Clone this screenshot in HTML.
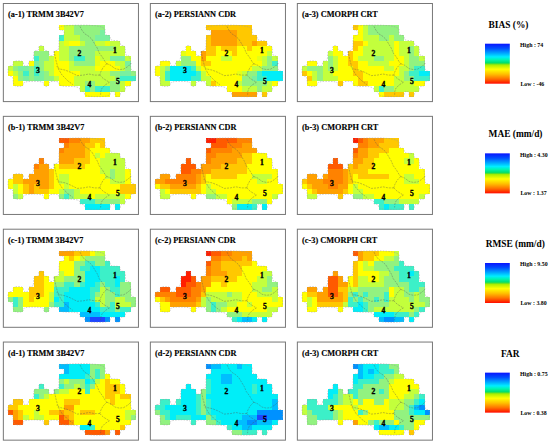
<!DOCTYPE html><html><head><meta charset="utf-8"><style>
html,body{margin:0;padding:0;background:#fff;}
body{width:550px;height:445px;overflow:hidden;}
svg{display:block;}
text{font-family:"Liberation Serif",serif;font-weight:bold;fill:#000;}
</style></head><body>
<svg width="550" height="445" viewBox="0 0 550 445">
<defs><linearGradient id="ramp" x1="0" y1="0" x2="0" y2="1">
<stop offset="0" stop-color="#0a14ff"/><stop offset="0.12" stop-color="#0050ff"/><stop offset="0.25" stop-color="#00b0ff"/>
<stop offset="0.33" stop-color="#00eeff"/><stop offset="0.40" stop-color="#00f5b4"/><stop offset="0.475" stop-color="#00e070"/>
<stop offset="0.505" stop-color="#50e030"/><stop offset="0.53" stop-color="#a8ee00"/><stop offset="0.64" stop-color="#ffff00"/>
<stop offset="0.76" stop-color="#ffc000"/><stop offset="0.88" stop-color="#ff7000"/><stop offset="1" stop-color="#ff0a00"/>
</linearGradient></defs>

<rect x="3.35" y="3.50" width="135.1" height="98.1" fill="none" stroke="#777" stroke-width="1.0"/>
<text transform="translate(8.05,17.00) scale(1.13,1)" font-size="7.35" stroke="#000" stroke-width="0.12">(a-1) TRMM 3B42V7</text>
<g shape-rendering="crispEdges"><rect x="59.10" y="25.20" width="5.15" height="5.15" fill="#ffff00"/><rect x="64.20" y="25.20" width="10.25" height="5.15" fill="#c3ff3c"/><rect x="74.40" y="25.20" width="30.65" height="5.15" fill="#92f280"/><rect x="64.20" y="30.30" width="10.25" height="5.15" fill="#c3ff3c"/><rect x="74.40" y="30.30" width="25.55" height="5.15" fill="#92f280"/><rect x="99.90" y="30.30" width="5.15" height="5.15" fill="#78f0a0"/><rect x="59.10" y="35.40" width="5.15" height="5.15" fill="#3cf0c8"/><rect x="64.20" y="35.40" width="15.35" height="5.15" fill="#c3ff3c"/><rect x="79.50" y="35.40" width="15.35" height="5.15" fill="#92f280"/><rect x="94.80" y="35.40" width="15.35" height="5.15" fill="#78f0a0"/><rect x="59.10" y="40.50" width="5.15" height="5.15" fill="#c3ff3c"/><rect x="64.20" y="40.50" width="5.15" height="5.15" fill="#e6ff14"/><rect x="69.30" y="40.50" width="10.25" height="5.15" fill="#ffff00"/><rect x="79.50" y="40.50" width="5.15" height="5.15" fill="#c3ff3c"/><rect x="84.60" y="40.50" width="10.25" height="5.15" fill="#92f280"/><rect x="94.80" y="40.50" width="10.25" height="5.15" fill="#c3ff3c"/><rect x="105.00" y="40.50" width="5.15" height="5.15" fill="#e6ff14"/><rect x="110.10" y="40.50" width="10.25" height="5.15" fill="#c3ff3c"/><rect x="38.70" y="45.60" width="5.15" height="5.15" fill="#c3ff3c"/><rect x="59.10" y="45.60" width="10.25" height="5.15" fill="#c3ff3c"/><rect x="69.30" y="45.60" width="45.95" height="5.15" fill="#92f280"/><rect x="115.20" y="45.60" width="10.25" height="5.15" fill="#c3ff3c"/><rect x="33.60" y="50.70" width="15.35" height="5.15" fill="#92f280"/><rect x="54.00" y="50.70" width="5.15" height="5.15" fill="#ffff00"/><rect x="59.10" y="50.70" width="10.25" height="5.15" fill="#c3ff3c"/><rect x="69.30" y="50.70" width="25.55" height="5.15" fill="#92f280"/><rect x="94.80" y="50.70" width="30.65" height="5.15" fill="#c3ff3c"/><rect x="33.60" y="55.80" width="5.15" height="5.15" fill="#3cf0c8"/><rect x="38.70" y="55.80" width="10.25" height="5.15" fill="#92f280"/><rect x="48.90" y="55.80" width="5.15" height="5.15" fill="#c3ff3c"/><rect x="54.00" y="55.80" width="5.15" height="5.15" fill="#ffff00"/><rect x="59.10" y="55.80" width="10.25" height="5.15" fill="#c3ff3c"/><rect x="69.30" y="55.80" width="5.15" height="5.15" fill="#92f280"/><rect x="74.40" y="55.80" width="10.25" height="5.15" fill="#3cf0c8"/><rect x="84.60" y="55.80" width="10.25" height="5.15" fill="#92f280"/><rect x="94.80" y="55.80" width="5.15" height="5.15" fill="#e6ff14"/><rect x="99.90" y="55.80" width="10.25" height="5.15" fill="#c3ff3c"/><rect x="110.10" y="55.80" width="15.35" height="5.15" fill="#78f0a0"/><rect x="125.40" y="55.80" width="5.15" height="5.15" fill="#c3ff3c"/><rect x="13.20" y="60.90" width="10.25" height="5.15" fill="#c3ff3c"/><rect x="28.50" y="60.90" width="5.15" height="5.15" fill="#ffff00"/><rect x="33.60" y="60.90" width="5.15" height="5.15" fill="#78f0a0"/><rect x="38.70" y="60.90" width="5.15" height="5.15" fill="#92f280"/><rect x="43.80" y="60.90" width="10.25" height="5.15" fill="#c3ff3c"/><rect x="54.00" y="60.90" width="15.35" height="5.15" fill="#ffff00"/><rect x="69.30" y="60.90" width="5.15" height="5.15" fill="#c3ff3c"/><rect x="74.40" y="60.90" width="20.45" height="5.15" fill="#92f280"/><rect x="94.80" y="60.90" width="5.15" height="5.15" fill="#e6ff14"/><rect x="99.90" y="60.90" width="15.35" height="5.15" fill="#ffff00"/><rect x="115.20" y="60.90" width="10.25" height="5.15" fill="#c3ff3c"/><rect x="125.40" y="60.90" width="5.15" height="5.15" fill="#78f0a0"/><rect x="8.10" y="66.00" width="5.15" height="5.15" fill="#c3ff3c"/><rect x="13.20" y="66.00" width="5.15" height="5.15" fill="#92f280"/><rect x="18.30" y="66.00" width="10.25" height="5.15" fill="#78f0a0"/><rect x="28.50" y="66.00" width="5.15" height="5.15" fill="#92f280"/><rect x="33.60" y="66.00" width="5.15" height="5.15" fill="#3cf0c8"/><rect x="38.70" y="66.00" width="5.15" height="5.15" fill="#92f280"/><rect x="43.80" y="66.00" width="10.25" height="5.15" fill="#c3ff3c"/><rect x="54.00" y="66.00" width="15.35" height="5.15" fill="#ffff00"/><rect x="69.30" y="66.00" width="25.55" height="5.15" fill="#c3ff3c"/><rect x="94.80" y="66.00" width="25.55" height="5.15" fill="#ffff00"/><rect x="120.30" y="66.00" width="5.15" height="5.15" fill="#c3ff3c"/><rect x="125.40" y="66.00" width="5.15" height="5.15" fill="#92f280"/><rect x="8.10" y="71.10" width="5.15" height="5.15" fill="#ffff00"/><rect x="13.20" y="71.10" width="5.15" height="5.15" fill="#c3ff3c"/><rect x="18.30" y="71.10" width="5.15" height="5.15" fill="#92f280"/><rect x="23.40" y="71.10" width="5.15" height="5.15" fill="#3cf0c8"/><rect x="28.50" y="71.10" width="5.15" height="5.15" fill="#92f280"/><rect x="33.60" y="71.10" width="5.15" height="5.15" fill="#3cf0c8"/><rect x="38.70" y="71.10" width="5.15" height="5.15" fill="#78f0a0"/><rect x="43.80" y="71.10" width="5.15" height="5.15" fill="#92f280"/><rect x="48.90" y="71.10" width="5.15" height="5.15" fill="#c3ff3c"/><rect x="54.00" y="71.10" width="25.55" height="5.15" fill="#ffff00"/><rect x="79.50" y="71.10" width="30.65" height="5.15" fill="#c3ff3c"/><rect x="110.10" y="71.10" width="10.25" height="5.15" fill="#92f280"/><rect x="120.30" y="71.10" width="10.25" height="5.15" fill="#78f0a0"/><rect x="130.50" y="71.10" width="5.15" height="5.15" fill="#92f280"/><rect x="13.20" y="76.20" width="5.15" height="5.15" fill="#ffff00"/><rect x="18.30" y="76.20" width="5.15" height="5.15" fill="#92f280"/><rect x="23.40" y="76.20" width="5.15" height="5.15" fill="#78f0a0"/><rect x="28.50" y="76.20" width="5.15" height="5.15" fill="#92f280"/><rect x="33.60" y="76.20" width="10.25" height="5.15" fill="#78f0a0"/><rect x="43.80" y="76.20" width="10.25" height="5.15" fill="#92f280"/><rect x="54.00" y="76.20" width="5.15" height="5.15" fill="#c3ff3c"/><rect x="59.10" y="76.20" width="15.35" height="5.15" fill="#ffff00"/><rect x="74.40" y="76.20" width="40.85" height="5.15" fill="#c3ff3c"/><rect x="115.20" y="76.20" width="5.15" height="5.15" fill="#92f280"/><rect x="120.30" y="76.20" width="15.35" height="5.15" fill="#3cf0c8"/><rect x="13.20" y="81.30" width="10.25" height="5.15" fill="#ffff00"/><rect x="43.80" y="81.30" width="5.15" height="5.15" fill="#ffff00"/><rect x="59.10" y="81.30" width="15.35" height="5.15" fill="#ffff00"/><rect x="74.40" y="81.30" width="10.25" height="5.15" fill="#c3ff3c"/><rect x="84.60" y="81.30" width="10.25" height="5.15" fill="#92f280"/><rect x="94.80" y="81.30" width="15.35" height="5.15" fill="#c3ff3c"/><rect x="110.10" y="81.30" width="10.25" height="5.15" fill="#92f280"/><rect x="120.30" y="81.30" width="5.15" height="5.15" fill="#c3ff3c"/><rect x="125.40" y="81.30" width="5.15" height="5.15" fill="#ffff00"/><rect x="79.50" y="86.40" width="5.15" height="5.15" fill="#c3ff3c"/><rect x="84.60" y="86.40" width="5.15" height="5.15" fill="#3cf0c8"/><rect x="89.70" y="86.40" width="5.15" height="5.15" fill="#92f280"/><rect x="94.80" y="86.40" width="15.35" height="5.15" fill="#3cf0c8"/><rect x="110.10" y="86.40" width="10.25" height="5.15" fill="#92f280"/><rect x="120.30" y="86.40" width="5.15" height="5.15" fill="#c3ff3c"/><rect x="84.60" y="91.50" width="25.55" height="5.15" fill="#ffff00"/><rect x="115.20" y="91.50" width="5.15" height="5.15" fill="#ffff00"/></g>
<path d="M10.0,66.0 L11.3,66.0 L12.2,65.7 L12.9,65.0 L13.2,64.1 L13.2,62.8 L13.8,61.9 L15.1,61.2 L17.0,60.9 L19.6,60.9 L21.5,61.2 L22.8,61.9 L23.4,62.8 L23.4,64.1 L23.7,65.0 L24.4,65.7 L25.3,66.0 L26.6,66.0 L27.5,65.7 L28.2,65.0 L28.5,64.1 L28.5,62.8 L28.8,61.9 L29.5,61.2 L30.4,60.9 L31.7,60.9 L32.6,60.3 L33.3,59.0 L33.6,57.1 L33.6,54.5 L33.9,52.6 L34.6,51.3 L35.5,50.7 L36.8,50.7 L37.7,50.4 L38.4,49.7 L38.7,48.8 L38.7,47.5 L39.0,46.6 L39.7,45.9 L40.6,45.6 L41.9,45.6 L42.8,45.9 L43.5,46.6 L43.8,47.5 L43.8,48.8 L44.1,49.7 L44.8,50.4 L45.7,50.7 L47.0,50.7 L47.9,51.0 L48.6,51.7 L48.9,52.6 L48.9,53.9 L49.2,54.8 L49.9,55.5 L50.8,55.8 L52.1,55.8 L53.0,55.5 L53.7,54.8 L54.0,53.9 L54.0,52.6 L54.3,51.7 L55.0,51.0 L55.9,50.7 L57.2,50.7 L58.1,49.7 L58.8,47.8 L59.1,45.0 L59.1,41.1 L59.4,38.3 L60.1,36.4 L61.0,35.4 L62.3,35.4 L63.2,35.1 L63.9,34.4 L64.2,33.5 L64.2,32.2 L63.9,31.3 L63.2,30.6 L62.3,30.3 L61.0,30.3 L60.1,30.0 L59.4,29.3 L59.1,28.4 L59.1,27.1 L62.0,26.2 L67.7,25.5 L76.3,25.2 L87.8,25.2 L96.4,25.8 L102.1,27.1 L105.0,29.0 L105.0,31.6 L105.3,33.5 L106.0,34.8 L106.9,35.4 L108.2,35.4 L109.1,35.7 L109.8,36.4 L110.1,37.3 L110.1,38.6 L110.7,39.5 L112.0,40.2 L113.9,40.5 L116.5,40.5 L118.4,40.8 L119.7,41.5 L120.3,42.4 L120.3,43.7 L120.6,44.6 L121.3,45.3 L122.2,45.6 L123.5,45.6 L124.4,46.2 L125.1,47.5 L125.4,49.4 L125.4,52.0 L125.7,53.9 L126.4,55.2 L127.3,55.8 L128.6,55.8 L129.5,56.8 L130.2,58.7 L130.5,61.5 L130.5,65.4 L130.8,68.2 L131.5,70.1 L132.4,71.1 L133.7,71.1 L134.6,71.7 L135.3,73.0 L135.6,74.9 L135.6,77.5 L135.3,79.4 L134.6,80.7 L133.7,81.3 L132.4,81.3 L131.5,81.6 L130.8,82.3 L130.5,83.2 L130.5,84.5 L130.2,85.4 L129.5,86.1 L128.6,86.4 L127.3,86.4 L126.4,86.7 L125.7,87.4 L125.4,88.3 L125.4,89.6 L125.1,90.5 L124.4,91.2 L123.5,91.5 L122.2,91.5 L121.3,91.8 L120.6,92.5 L120.3,93.4 L120.3,94.7 L120.0,95.6 L119.3,96.3 L118.4,96.6 L117.1,96.6 L116.2,96.3 L115.5,95.6 L115.2,94.7 L115.2,93.4 L114.9,92.5 L114.2,91.8 L113.3,91.5 L112.0,91.5 L111.1,91.8 L110.4,92.5 L110.1,93.4 L110.1,94.7 L108.5,95.6 L105.3,96.3 L100.5,96.6 L94.2,96.6 L89.4,96.3 L86.2,95.6 L84.6,94.7 L84.6,93.4 L84.3,92.5 L83.6,91.8 L82.7,91.5 L81.4,91.5 L80.5,91.2 L79.8,90.5 L79.5,89.6 L79.5,88.3 L78.2,87.4 L75.7,86.7 L71.8,86.4 L66.7,86.4 L62.9,86.1 L60.4,85.4 L59.1,84.5 L59.1,83.2 L58.5,82.3 L57.2,81.6 L55.3,81.3 L52.7,81.3 L50.8,81.6 L49.5,82.3 L48.9,83.2 L48.9,84.5 L48.6,85.4 L47.9,86.1 L47.0,86.4 L45.7,86.4 L44.8,86.1 L44.1,85.4 L43.8,84.5 L43.8,83.2 L42.5,82.3 L40.0,81.6 L36.1,81.3 L31.0,81.3 L27.2,81.6 L24.7,82.3 L23.4,83.2 L23.4,84.5 L22.8,85.4 L21.5,86.1 L19.6,86.4 L17.0,86.4 L15.1,85.8 L13.8,84.5 L13.2,82.6 L13.2,80.0 L12.9,78.1 L12.2,76.8 L11.3,76.2 L10.0,76.2 L9.1,75.6 L8.4,74.3 L8.1,72.4 L8.1,69.8 L8.4,67.9 L9.1,66.6Z" fill="none" stroke="#9a9a9a" stroke-width="0.5" stroke-dasharray="1.6,1.2"/>
<path d="M80.0,26.4 L81.8,30.0 L84.5,33.6 L88.2,35.9 L91.8,39.1 L94.5,43.6 L97.3,48.2 L99.2,52.9 L102.5,57.3 L105.7,62.7 L106.8,63.7" fill="none" stroke="#505050" stroke-width="0.5" stroke-dasharray="2,1" opacity="0.75"/>
<path d="M106.8,63.7 L110.7,65.3 L115.0,68.6 L119.4,69.6 L123.7,69.1 L128.1,66.4 L131.4,63.1" fill="none" stroke="#505050" stroke-width="0.5" stroke-dasharray="2,1" opacity="0.75"/>
<path d="M106.8,63.7 L103.1,67.5 L100.8,71.8 L99.8,75.1" fill="none" stroke="#505050" stroke-width="0.5" stroke-dasharray="2,1" opacity="0.75"/>
<path d="M99.8,75.1 L94.3,75.1 L88.9,74.0 L83.4,75.1 L77.2,75.6 L70.7,72.3 L65.2,70.1 L59.8,69.0 L56.6,66.7" fill="none" stroke="#505050" stroke-width="0.5" stroke-dasharray="2,1" opacity="0.75"/>
<path d="M99.8,75.1 L103.1,78.4 L107.4,81.1 L109.5,82.2 L105.2,84.9 L102.0,88.2 L100.8,91.5 L100.6,94.7" fill="none" stroke="#505050" stroke-width="0.5" stroke-dasharray="2,1" opacity="0.75"/>
<path d="M54.0,51.0 L56.0,60.6 L58.4,69.0 L62.0,75.0 L68.0,81.0 L72.8,84.6" fill="none" stroke="#505050" stroke-width="0.5" stroke-dasharray="2,1" opacity="0.75"/>
<text x="115.0" y="52.5" font-size="7.6" text-anchor="middle" stroke="#000" stroke-width="0.35">1</text>
<text x="79.4" y="55.8" font-size="7.6" text-anchor="middle" stroke="#000" stroke-width="0.35">2</text>
<text x="37.9" y="72.8" font-size="7.6" text-anchor="middle" stroke="#000" stroke-width="0.35">3</text>
<text x="89.5" y="87.2" font-size="7.6" text-anchor="middle" stroke="#000" stroke-width="0.35">4</text>
<text x="117.9" y="83.6" font-size="7.6" text-anchor="middle" stroke="#000" stroke-width="0.35">5</text>
<rect x="150.35" y="3.50" width="135.1" height="98.1" fill="none" stroke="#777" stroke-width="1.0"/>
<text transform="translate(155.05,17.00) scale(1.13,1)" font-size="7.35" stroke="#000" stroke-width="0.12">(a-2) PERSIANN CDR</text>
<g shape-rendering="crispEdges"><rect x="206.10" y="25.20" width="45.95" height="5.15" fill="#ffc800"/><rect x="211.20" y="30.30" width="25.55" height="5.15" fill="#ffa000"/><rect x="236.70" y="30.30" width="15.35" height="5.15" fill="#ffc800"/><rect x="206.10" y="35.40" width="5.15" height="5.15" fill="#ffc800"/><rect x="211.20" y="35.40" width="25.55" height="5.15" fill="#ffa000"/><rect x="236.70" y="35.40" width="20.45" height="5.15" fill="#ffc800"/><rect x="206.10" y="40.50" width="5.15" height="5.15" fill="#ffc800"/><rect x="211.20" y="40.50" width="25.55" height="5.15" fill="#ffa000"/><rect x="236.70" y="40.50" width="15.35" height="5.15" fill="#ffc800"/><rect x="252.00" y="40.50" width="5.15" height="5.15" fill="#ffa000"/><rect x="257.10" y="40.50" width="10.25" height="5.15" fill="#ffc800"/><rect x="185.70" y="45.60" width="5.15" height="5.15" fill="#ffff00"/><rect x="206.10" y="45.60" width="10.25" height="5.15" fill="#ffc800"/><rect x="216.30" y="45.60" width="5.15" height="5.15" fill="#ffff00"/><rect x="221.40" y="45.60" width="15.35" height="5.15" fill="#ffc800"/><rect x="236.70" y="45.60" width="10.25" height="5.15" fill="#ffff00"/><rect x="246.90" y="45.60" width="5.15" height="5.15" fill="#ffc800"/><rect x="252.00" y="45.60" width="20.45" height="5.15" fill="#ffff00"/><rect x="180.60" y="50.70" width="5.15" height="5.15" fill="#e6ff14"/><rect x="185.70" y="50.70" width="10.25" height="5.15" fill="#ffff00"/><rect x="201.00" y="50.70" width="5.15" height="5.15" fill="#ffa000"/><rect x="206.10" y="50.70" width="10.25" height="5.15" fill="#ffc800"/><rect x="216.30" y="50.70" width="15.35" height="5.15" fill="#ffff00"/><rect x="231.60" y="50.70" width="5.15" height="5.15" fill="#ffc800"/><rect x="236.70" y="50.70" width="30.65" height="5.15" fill="#ffff00"/><rect x="267.30" y="50.70" width="5.15" height="5.15" fill="#c3ff3c"/><rect x="180.60" y="55.80" width="10.25" height="5.15" fill="#92f280"/><rect x="190.80" y="55.80" width="10.25" height="5.15" fill="#ffff00"/><rect x="201.00" y="55.80" width="5.15" height="5.15" fill="#ffa000"/><rect x="206.10" y="55.80" width="15.35" height="5.15" fill="#ffff00"/><rect x="221.40" y="55.80" width="10.25" height="5.15" fill="#c3ff3c"/><rect x="231.60" y="55.80" width="25.55" height="5.15" fill="#ffff00"/><rect x="257.10" y="55.80" width="5.15" height="5.15" fill="#e6ff14"/><rect x="262.20" y="55.80" width="5.15" height="5.15" fill="#c3ff3c"/><rect x="267.30" y="55.80" width="5.15" height="5.15" fill="#92f280"/><rect x="272.40" y="55.80" width="5.15" height="5.15" fill="#c3ff3c"/><rect x="160.20" y="60.90" width="10.25" height="5.15" fill="#ffff00"/><rect x="175.50" y="60.90" width="5.15" height="5.15" fill="#c3ff3c"/><rect x="180.60" y="60.90" width="15.35" height="5.15" fill="#92f280"/><rect x="195.90" y="60.90" width="5.15" height="5.15" fill="#ffff00"/><rect x="201.00" y="60.90" width="10.25" height="5.15" fill="#ffc800"/><rect x="211.20" y="60.90" width="51.05" height="5.15" fill="#ffff00"/><rect x="262.20" y="60.90" width="5.15" height="5.15" fill="#c3ff3c"/><rect x="267.30" y="60.90" width="5.15" height="5.15" fill="#92f280"/><rect x="272.40" y="60.90" width="5.15" height="5.15" fill="#3cf0c8"/><rect x="155.10" y="66.00" width="5.15" height="5.15" fill="#ffff00"/><rect x="160.20" y="66.00" width="5.15" height="5.15" fill="#c3ff3c"/><rect x="165.30" y="66.00" width="5.15" height="5.15" fill="#92f280"/><rect x="170.40" y="66.00" width="20.45" height="5.15" fill="#00eef8"/><rect x="190.80" y="66.00" width="5.15" height="5.15" fill="#3cf0c8"/><rect x="195.90" y="66.00" width="5.15" height="5.15" fill="#c3ff3c"/><rect x="201.00" y="66.00" width="51.05" height="5.15" fill="#ffff00"/><rect x="252.00" y="66.00" width="10.25" height="5.15" fill="#c3ff3c"/><rect x="262.20" y="66.00" width="15.35" height="5.15" fill="#92f280"/><rect x="155.10" y="71.10" width="5.15" height="5.15" fill="#ffff00"/><rect x="160.20" y="71.10" width="5.15" height="5.15" fill="#c3ff3c"/><rect x="165.30" y="71.10" width="5.15" height="5.15" fill="#3cf0c8"/><rect x="170.40" y="71.10" width="25.55" height="5.15" fill="#00eef8"/><rect x="195.90" y="71.10" width="5.15" height="5.15" fill="#3cf0c8"/><rect x="201.00" y="71.10" width="5.15" height="5.15" fill="#c3ff3c"/><rect x="206.10" y="71.10" width="30.65" height="5.15" fill="#ffff00"/><rect x="236.70" y="71.10" width="5.15" height="5.15" fill="#e6ff14"/><rect x="241.80" y="71.10" width="5.15" height="5.15" fill="#c3ff3c"/><rect x="246.90" y="71.10" width="10.25" height="5.15" fill="#92f280"/><rect x="257.10" y="71.10" width="5.15" height="5.15" fill="#3cf0c8"/><rect x="262.20" y="71.10" width="20.45" height="5.15" fill="#00eef8"/><rect x="160.20" y="76.20" width="5.15" height="5.15" fill="#c3ff3c"/><rect x="165.30" y="76.20" width="5.15" height="5.15" fill="#3cf0c8"/><rect x="170.40" y="76.20" width="20.45" height="5.15" fill="#00eef8"/><rect x="190.80" y="76.20" width="10.25" height="5.15" fill="#3cf0c8"/><rect x="201.00" y="76.20" width="10.25" height="5.15" fill="#c3ff3c"/><rect x="211.20" y="76.20" width="30.65" height="5.15" fill="#ffff00"/><rect x="241.80" y="76.20" width="10.25" height="5.15" fill="#92f280"/><rect x="252.00" y="76.20" width="5.15" height="5.15" fill="#78f0a0"/><rect x="257.10" y="76.20" width="10.25" height="5.15" fill="#3cf0c8"/><rect x="267.30" y="76.20" width="15.35" height="5.15" fill="#00eef8"/><rect x="160.20" y="81.30" width="10.25" height="5.15" fill="#c3ff3c"/><rect x="190.80" y="81.30" width="5.15" height="5.15" fill="#c3ff3c"/><rect x="206.10" y="81.30" width="5.15" height="5.15" fill="#c3ff3c"/><rect x="211.20" y="81.30" width="5.15" height="5.15" fill="#ffc800"/><rect x="216.30" y="81.30" width="20.45" height="5.15" fill="#ffff00"/><rect x="236.70" y="81.30" width="5.15" height="5.15" fill="#c3ff3c"/><rect x="241.80" y="81.30" width="25.55" height="5.15" fill="#92f280"/><rect x="267.30" y="81.30" width="5.15" height="5.15" fill="#c3ff3c"/><rect x="272.40" y="81.30" width="5.15" height="5.15" fill="#ffff00"/><rect x="226.50" y="86.40" width="15.35" height="5.15" fill="#ffff00"/><rect x="241.80" y="86.40" width="15.35" height="5.15" fill="#c3ff3c"/><rect x="257.10" y="86.40" width="5.15" height="5.15" fill="#92f280"/><rect x="262.20" y="86.40" width="10.25" height="5.15" fill="#c3ff3c"/><rect x="231.60" y="91.50" width="25.55" height="5.15" fill="#ffa000"/><rect x="262.20" y="91.50" width="5.15" height="5.15" fill="#ffc800"/></g>
<path d="M157.0,66.0 L158.3,66.0 L159.2,65.7 L159.9,65.0 L160.2,64.1 L160.2,62.8 L160.8,61.9 L162.1,61.2 L164.0,60.9 L166.6,60.9 L168.5,61.2 L169.8,61.9 L170.4,62.8 L170.4,64.1 L170.7,65.0 L171.4,65.7 L172.3,66.0 L173.6,66.0 L174.5,65.7 L175.2,65.0 L175.5,64.1 L175.5,62.8 L175.8,61.9 L176.5,61.2 L177.4,60.9 L178.7,60.9 L179.6,60.3 L180.3,59.0 L180.6,57.1 L180.6,54.5 L180.9,52.6 L181.6,51.3 L182.5,50.7 L183.8,50.7 L184.7,50.4 L185.4,49.7 L185.7,48.8 L185.7,47.5 L186.0,46.6 L186.7,45.9 L187.6,45.6 L188.9,45.6 L189.8,45.9 L190.5,46.6 L190.8,47.5 L190.8,48.8 L191.1,49.7 L191.8,50.4 L192.7,50.7 L194.0,50.7 L194.9,51.0 L195.6,51.7 L195.9,52.6 L195.9,53.9 L196.2,54.8 L196.9,55.5 L197.8,55.8 L199.1,55.8 L200.0,55.5 L200.7,54.8 L201.0,53.9 L201.0,52.6 L201.3,51.7 L202.0,51.0 L202.9,50.7 L204.2,50.7 L205.1,49.7 L205.8,47.8 L206.1,45.0 L206.1,41.1 L206.4,38.3 L207.1,36.4 L208.0,35.4 L209.3,35.4 L210.2,35.1 L210.9,34.4 L211.2,33.5 L211.2,32.2 L210.9,31.3 L210.2,30.6 L209.3,30.3 L208.0,30.3 L207.1,30.0 L206.4,29.3 L206.1,28.4 L206.1,27.1 L209.0,26.2 L214.7,25.5 L223.3,25.2 L234.8,25.2 L243.4,25.8 L249.1,27.1 L252.0,29.0 L252.0,31.6 L252.3,33.5 L253.0,34.8 L253.9,35.4 L255.2,35.4 L256.1,35.7 L256.8,36.4 L257.1,37.3 L257.1,38.6 L257.7,39.5 L259.0,40.2 L260.9,40.5 L263.5,40.5 L265.4,40.8 L266.7,41.5 L267.3,42.4 L267.3,43.7 L267.6,44.6 L268.3,45.3 L269.2,45.6 L270.5,45.6 L271.4,46.2 L272.1,47.5 L272.4,49.4 L272.4,52.0 L272.7,53.9 L273.4,55.2 L274.3,55.8 L275.6,55.8 L276.5,56.8 L277.2,58.7 L277.5,61.5 L277.5,65.4 L277.8,68.2 L278.5,70.1 L279.4,71.1 L280.7,71.1 L281.6,71.7 L282.3,73.0 L282.6,74.9 L282.6,77.5 L282.3,79.4 L281.6,80.7 L280.7,81.3 L279.4,81.3 L278.5,81.6 L277.8,82.3 L277.5,83.2 L277.5,84.5 L277.2,85.4 L276.5,86.1 L275.6,86.4 L274.3,86.4 L273.4,86.7 L272.7,87.4 L272.4,88.3 L272.4,89.6 L272.1,90.5 L271.4,91.2 L270.5,91.5 L269.2,91.5 L268.3,91.8 L267.6,92.5 L267.3,93.4 L267.3,94.7 L267.0,95.6 L266.3,96.3 L265.4,96.6 L264.1,96.6 L263.2,96.3 L262.5,95.6 L262.2,94.7 L262.2,93.4 L261.9,92.5 L261.2,91.8 L260.3,91.5 L259.0,91.5 L258.1,91.8 L257.4,92.5 L257.1,93.4 L257.1,94.7 L255.5,95.6 L252.3,96.3 L247.5,96.6 L241.2,96.6 L236.4,96.3 L233.2,95.6 L231.6,94.7 L231.6,93.4 L231.3,92.5 L230.6,91.8 L229.7,91.5 L228.4,91.5 L227.5,91.2 L226.8,90.5 L226.5,89.6 L226.5,88.3 L225.2,87.4 L222.7,86.7 L218.8,86.4 L213.8,86.4 L209.9,86.1 L207.4,85.4 L206.1,84.5 L206.1,83.2 L205.5,82.3 L204.2,81.6 L202.3,81.3 L199.7,81.3 L197.8,81.6 L196.5,82.3 L195.9,83.2 L195.9,84.5 L195.6,85.4 L194.9,86.1 L194.0,86.4 L192.7,86.4 L191.8,86.1 L191.1,85.4 L190.8,84.5 L190.8,83.2 L189.5,82.3 L187.0,81.6 L183.1,81.3 L178.0,81.3 L174.2,81.6 L171.7,82.3 L170.4,83.2 L170.4,84.5 L169.8,85.4 L168.5,86.1 L166.6,86.4 L164.0,86.4 L162.1,85.8 L160.8,84.5 L160.2,82.6 L160.2,80.0 L159.9,78.1 L159.2,76.8 L158.3,76.2 L157.0,76.2 L156.1,75.6 L155.4,74.3 L155.1,72.4 L155.1,69.8 L155.4,67.9 L156.1,66.6Z" fill="none" stroke="#9a9a9a" stroke-width="0.5" stroke-dasharray="1.6,1.2"/>
<path d="M227.0,26.4 L228.8,30.0 L231.5,33.6 L235.2,35.9 L238.8,39.1 L241.5,43.6 L244.3,48.2 L246.2,52.9 L249.5,57.3 L252.7,62.7 L253.8,63.7" fill="none" stroke="#505050" stroke-width="0.5" stroke-dasharray="2,1" opacity="0.75"/>
<path d="M253.8,63.7 L257.7,65.3 L262.0,68.6 L266.4,69.6 L270.7,69.1 L275.1,66.4 L278.4,63.1" fill="none" stroke="#505050" stroke-width="0.5" stroke-dasharray="2,1" opacity="0.75"/>
<path d="M253.8,63.7 L250.1,67.5 L247.8,71.8 L246.8,75.1" fill="none" stroke="#505050" stroke-width="0.5" stroke-dasharray="2,1" opacity="0.75"/>
<path d="M246.8,75.1 L241.3,75.1 L235.9,74.0 L230.4,75.1 L224.2,75.6 L217.7,72.3 L212.2,70.1 L206.8,69.0 L203.6,66.7" fill="none" stroke="#505050" stroke-width="0.5" stroke-dasharray="2,1" opacity="0.75"/>
<path d="M246.8,75.1 L250.1,78.4 L254.4,81.1 L256.5,82.2 L252.2,84.9 L249.0,88.2 L247.8,91.5 L247.6,94.7" fill="none" stroke="#505050" stroke-width="0.5" stroke-dasharray="2,1" opacity="0.75"/>
<path d="M201.0,51.0 L203.0,60.6 L205.4,69.0 L209.0,75.0 L215.0,81.0 L219.8,84.6" fill="none" stroke="#505050" stroke-width="0.5" stroke-dasharray="2,1" opacity="0.75"/>
<text x="262.0" y="52.5" font-size="7.6" text-anchor="middle" stroke="#000" stroke-width="0.35">1</text>
<text x="226.4" y="55.8" font-size="7.6" text-anchor="middle" stroke="#000" stroke-width="0.35">2</text>
<text x="184.9" y="72.8" font-size="7.6" text-anchor="middle" stroke="#000" stroke-width="0.35">3</text>
<text x="236.5" y="87.2" font-size="7.6" text-anchor="middle" stroke="#000" stroke-width="0.35">4</text>
<text x="264.9" y="83.6" font-size="7.6" text-anchor="middle" stroke="#000" stroke-width="0.35">5</text>
<rect x="297.35" y="3.50" width="135.1" height="98.1" fill="none" stroke="#777" stroke-width="1.0"/>
<text transform="translate(302.05,17.00) scale(1.13,1)" font-size="7.35" stroke="#000" stroke-width="0.12">(a-3) CMORPH CRT</text>
<g shape-rendering="crispEdges"><rect x="353.10" y="25.20" width="5.15" height="5.15" fill="#ffc800"/><rect x="358.20" y="25.20" width="5.15" height="5.15" fill="#ffff00"/><rect x="363.30" y="25.20" width="5.15" height="5.15" fill="#c3ff3c"/><rect x="368.40" y="25.20" width="30.65" height="5.15" fill="#92f280"/><rect x="358.20" y="30.30" width="5.15" height="5.15" fill="#ffff00"/><rect x="363.30" y="30.30" width="5.15" height="5.15" fill="#c3ff3c"/><rect x="368.40" y="30.30" width="30.65" height="5.15" fill="#92f280"/><rect x="353.10" y="35.40" width="10.25" height="5.15" fill="#ffff00"/><rect x="363.30" y="35.40" width="15.35" height="5.15" fill="#c3ff3c"/><rect x="378.60" y="35.40" width="10.25" height="5.15" fill="#92f280"/><rect x="388.80" y="35.40" width="5.15" height="5.15" fill="#c3ff3c"/><rect x="393.90" y="35.40" width="10.25" height="5.15" fill="#92f280"/><rect x="353.10" y="40.50" width="10.25" height="5.15" fill="#ffc800"/><rect x="363.30" y="40.50" width="5.15" height="5.15" fill="#ffff00"/><rect x="368.40" y="40.50" width="25.55" height="5.15" fill="#c3ff3c"/><rect x="393.90" y="40.50" width="5.15" height="5.15" fill="#ffff00"/><rect x="399.00" y="40.50" width="15.35" height="5.15" fill="#c3ff3c"/><rect x="332.70" y="45.60" width="5.15" height="5.15" fill="#ffff00"/><rect x="353.10" y="45.60" width="5.15" height="5.15" fill="#ffc800"/><rect x="358.20" y="45.60" width="5.15" height="5.15" fill="#ffff00"/><rect x="363.30" y="45.60" width="30.65" height="5.15" fill="#c3ff3c"/><rect x="393.90" y="45.60" width="5.15" height="5.15" fill="#ffff00"/><rect x="399.00" y="45.60" width="10.25" height="5.15" fill="#c3ff3c"/><rect x="409.20" y="45.60" width="5.15" height="5.15" fill="#92f280"/><rect x="414.30" y="45.60" width="5.15" height="5.15" fill="#c3ff3c"/><rect x="327.60" y="50.70" width="5.15" height="5.15" fill="#c3ff3c"/><rect x="332.70" y="50.70" width="10.25" height="5.15" fill="#ffff00"/><rect x="348.00" y="50.70" width="5.15" height="5.15" fill="#ffc800"/><rect x="353.10" y="50.70" width="10.25" height="5.15" fill="#ffff00"/><rect x="363.30" y="50.70" width="30.65" height="5.15" fill="#c3ff3c"/><rect x="393.90" y="50.70" width="5.15" height="5.15" fill="#ffff00"/><rect x="399.00" y="50.70" width="10.25" height="5.15" fill="#c3ff3c"/><rect x="409.20" y="50.70" width="5.15" height="5.15" fill="#92f280"/><rect x="414.30" y="50.70" width="5.15" height="5.15" fill="#c3ff3c"/><rect x="327.60" y="55.80" width="5.15" height="5.15" fill="#92f280"/><rect x="332.70" y="55.80" width="5.15" height="5.15" fill="#c3ff3c"/><rect x="337.80" y="55.80" width="10.25" height="5.15" fill="#ffff00"/><rect x="348.00" y="55.80" width="5.15" height="5.15" fill="#ffc800"/><rect x="353.10" y="55.80" width="5.15" height="5.15" fill="#ffff00"/><rect x="358.20" y="55.80" width="15.35" height="5.15" fill="#c3ff3c"/><rect x="373.50" y="55.80" width="10.25" height="5.15" fill="#92f280"/><rect x="383.70" y="55.80" width="10.25" height="5.15" fill="#c3ff3c"/><rect x="393.90" y="55.80" width="10.25" height="5.15" fill="#ffff00"/><rect x="404.10" y="55.80" width="5.15" height="5.15" fill="#c3ff3c"/><rect x="409.20" y="55.80" width="10.25" height="5.15" fill="#92f280"/><rect x="419.40" y="55.80" width="5.15" height="5.15" fill="#c3ff3c"/><rect x="307.20" y="60.90" width="10.25" height="5.15" fill="#ffff00"/><rect x="322.50" y="60.90" width="5.15" height="5.15" fill="#c3ff3c"/><rect x="327.60" y="60.90" width="5.15" height="5.15" fill="#92f280"/><rect x="332.70" y="60.90" width="5.15" height="5.15" fill="#c3ff3c"/><rect x="337.80" y="60.90" width="10.25" height="5.15" fill="#ffff00"/><rect x="348.00" y="60.90" width="10.25" height="5.15" fill="#ffc800"/><rect x="358.20" y="60.90" width="10.25" height="5.15" fill="#ffff00"/><rect x="368.40" y="60.90" width="20.45" height="5.15" fill="#c3ff3c"/><rect x="388.80" y="60.90" width="15.35" height="5.15" fill="#ffff00"/><rect x="404.10" y="60.90" width="5.15" height="5.15" fill="#c3ff3c"/><rect x="409.20" y="60.90" width="15.35" height="5.15" fill="#92f280"/><rect x="302.10" y="66.00" width="5.15" height="5.15" fill="#c3ff3c"/><rect x="307.20" y="66.00" width="15.35" height="5.15" fill="#92f280"/><rect x="322.50" y="66.00" width="5.15" height="5.15" fill="#c3ff3c"/><rect x="327.60" y="66.00" width="5.15" height="5.15" fill="#92f280"/><rect x="332.70" y="66.00" width="5.15" height="5.15" fill="#c3ff3c"/><rect x="337.80" y="66.00" width="15.35" height="5.15" fill="#ffff00"/><rect x="353.10" y="66.00" width="5.15" height="5.15" fill="#ffc800"/><rect x="358.20" y="66.00" width="25.55" height="5.15" fill="#ffff00"/><rect x="383.70" y="66.00" width="10.25" height="5.15" fill="#c3ff3c"/><rect x="393.90" y="66.00" width="5.15" height="5.15" fill="#ffff00"/><rect x="399.00" y="66.00" width="10.25" height="5.15" fill="#c3ff3c"/><rect x="409.20" y="66.00" width="5.15" height="5.15" fill="#92f280"/><rect x="414.30" y="66.00" width="10.25" height="5.15" fill="#3cf0c8"/><rect x="302.10" y="71.10" width="5.15" height="5.15" fill="#ffc800"/><rect x="307.20" y="71.10" width="5.15" height="5.15" fill="#ffff00"/><rect x="312.30" y="71.10" width="5.15" height="5.15" fill="#c3ff3c"/><rect x="317.40" y="71.10" width="5.15" height="5.15" fill="#92f280"/><rect x="322.50" y="71.10" width="10.25" height="5.15" fill="#c3ff3c"/><rect x="332.70" y="71.10" width="20.45" height="5.15" fill="#ffff00"/><rect x="353.10" y="71.10" width="10.25" height="5.15" fill="#ffc800"/><rect x="363.30" y="71.10" width="35.75" height="5.15" fill="#ffff00"/><rect x="399.00" y="71.10" width="5.15" height="5.15" fill="#c3ff3c"/><rect x="404.10" y="71.10" width="5.15" height="5.15" fill="#92f280"/><rect x="409.20" y="71.10" width="10.25" height="5.15" fill="#3cf0c8"/><rect x="419.40" y="71.10" width="10.25" height="5.15" fill="#00eef8"/><rect x="307.20" y="76.20" width="5.15" height="5.15" fill="#ffc800"/><rect x="312.30" y="76.20" width="5.15" height="5.15" fill="#c3ff3c"/><rect x="317.40" y="76.20" width="5.15" height="5.15" fill="#92f280"/><rect x="322.50" y="76.20" width="15.35" height="5.15" fill="#c3ff3c"/><rect x="337.80" y="76.20" width="20.45" height="5.15" fill="#ffff00"/><rect x="358.20" y="76.20" width="5.15" height="5.15" fill="#ffc800"/><rect x="363.30" y="76.20" width="30.65" height="5.15" fill="#ffff00"/><rect x="393.90" y="76.20" width="10.25" height="5.15" fill="#c3ff3c"/><rect x="404.10" y="76.20" width="10.25" height="5.15" fill="#92f280"/><rect x="414.30" y="76.20" width="15.35" height="5.15" fill="#3cf0c8"/><rect x="307.20" y="81.30" width="10.25" height="5.15" fill="#ffff00"/><rect x="337.80" y="81.30" width="5.15" height="5.15" fill="#ffc800"/><rect x="353.10" y="81.30" width="5.15" height="5.15" fill="#ffff00"/><rect x="358.20" y="81.30" width="10.25" height="5.15" fill="#ffc800"/><rect x="368.40" y="81.30" width="25.55" height="5.15" fill="#ffff00"/><rect x="393.90" y="81.30" width="20.45" height="5.15" fill="#c3ff3c"/><rect x="414.30" y="81.30" width="10.25" height="5.15" fill="#ffff00"/><rect x="373.50" y="86.40" width="5.15" height="5.15" fill="#c3ff3c"/><rect x="378.60" y="86.40" width="5.15" height="5.15" fill="#3cf0c8"/><rect x="383.70" y="86.40" width="10.25" height="5.15" fill="#92f280"/><rect x="393.90" y="86.40" width="25.55" height="5.15" fill="#c3ff3c"/><rect x="378.60" y="91.50" width="5.15" height="5.15" fill="#ffff00"/><rect x="383.70" y="91.50" width="20.45" height="5.15" fill="#ffc800"/><rect x="409.20" y="91.50" width="5.15" height="5.15" fill="#ffc800"/></g>
<path d="M304.0,66.0 L305.3,66.0 L306.2,65.7 L306.9,65.0 L307.2,64.1 L307.2,62.8 L307.8,61.9 L309.1,61.2 L311.0,60.9 L313.6,60.9 L315.5,61.2 L316.8,61.9 L317.4,62.8 L317.4,64.1 L317.7,65.0 L318.4,65.7 L319.3,66.0 L320.6,66.0 L321.5,65.7 L322.2,65.0 L322.5,64.1 L322.5,62.8 L322.8,61.9 L323.5,61.2 L324.4,60.9 L325.7,60.9 L326.6,60.3 L327.3,59.0 L327.6,57.1 L327.6,54.5 L327.9,52.6 L328.6,51.3 L329.5,50.7 L330.8,50.7 L331.7,50.4 L332.4,49.7 L332.7,48.8 L332.7,47.5 L333.0,46.6 L333.7,45.9 L334.6,45.6 L335.9,45.6 L336.8,45.9 L337.5,46.6 L337.8,47.5 L337.8,48.8 L338.1,49.7 L338.8,50.4 L339.7,50.7 L341.0,50.7 L341.9,51.0 L342.6,51.7 L342.9,52.6 L342.9,53.9 L343.2,54.8 L343.9,55.5 L344.8,55.8 L346.1,55.8 L347.0,55.5 L347.7,54.8 L348.0,53.9 L348.0,52.6 L348.3,51.7 L349.0,51.0 L349.9,50.7 L351.2,50.7 L352.1,49.7 L352.8,47.8 L353.1,45.0 L353.1,41.1 L353.4,38.3 L354.1,36.4 L355.0,35.4 L356.3,35.4 L357.2,35.1 L357.9,34.4 L358.2,33.5 L358.2,32.2 L357.9,31.3 L357.2,30.6 L356.3,30.3 L355.0,30.3 L354.1,30.0 L353.4,29.3 L353.1,28.4 L353.1,27.1 L356.0,26.2 L361.7,25.5 L370.3,25.2 L381.8,25.2 L390.4,25.8 L396.1,27.1 L399.0,29.0 L399.0,31.6 L399.3,33.5 L400.0,34.8 L400.9,35.4 L402.2,35.4 L403.1,35.7 L403.8,36.4 L404.1,37.3 L404.1,38.6 L404.7,39.5 L406.0,40.2 L407.9,40.5 L410.5,40.5 L412.4,40.8 L413.7,41.5 L414.3,42.4 L414.3,43.7 L414.6,44.6 L415.3,45.3 L416.2,45.6 L417.5,45.6 L418.4,46.2 L419.1,47.5 L419.4,49.4 L419.4,52.0 L419.7,53.9 L420.4,55.2 L421.3,55.8 L422.6,55.8 L423.5,56.8 L424.2,58.7 L424.5,61.5 L424.5,65.4 L424.8,68.2 L425.5,70.1 L426.4,71.1 L427.7,71.1 L428.6,71.7 L429.3,73.0 L429.6,74.9 L429.6,77.5 L429.3,79.4 L428.6,80.7 L427.7,81.3 L426.4,81.3 L425.5,81.6 L424.8,82.3 L424.5,83.2 L424.5,84.5 L424.2,85.4 L423.5,86.1 L422.6,86.4 L421.3,86.4 L420.4,86.7 L419.7,87.4 L419.4,88.3 L419.4,89.6 L419.1,90.5 L418.4,91.2 L417.5,91.5 L416.2,91.5 L415.3,91.8 L414.6,92.5 L414.3,93.4 L414.3,94.7 L414.0,95.6 L413.3,96.3 L412.4,96.6 L411.1,96.6 L410.2,96.3 L409.5,95.6 L409.2,94.7 L409.2,93.4 L408.9,92.5 L408.2,91.8 L407.3,91.5 L406.0,91.5 L405.1,91.8 L404.4,92.5 L404.1,93.4 L404.1,94.7 L402.5,95.6 L399.3,96.3 L394.5,96.6 L388.2,96.6 L383.4,96.3 L380.2,95.6 L378.6,94.7 L378.6,93.4 L378.3,92.5 L377.6,91.8 L376.7,91.5 L375.4,91.5 L374.5,91.2 L373.8,90.5 L373.5,89.6 L373.5,88.3 L372.2,87.4 L369.7,86.7 L365.9,86.4 L360.8,86.4 L356.9,86.1 L354.4,85.4 L353.1,84.5 L353.1,83.2 L352.5,82.3 L351.2,81.6 L349.3,81.3 L346.7,81.3 L344.8,81.6 L343.5,82.3 L342.9,83.2 L342.9,84.5 L342.6,85.4 L341.9,86.1 L341.0,86.4 L339.7,86.4 L338.8,86.1 L338.1,85.4 L337.8,84.5 L337.8,83.2 L336.5,82.3 L334.0,81.6 L330.2,81.3 L325.1,81.3 L321.2,81.6 L318.7,82.3 L317.4,83.2 L317.4,84.5 L316.8,85.4 L315.5,86.1 L313.6,86.4 L311.0,86.4 L309.1,85.8 L307.8,84.5 L307.2,82.6 L307.2,80.0 L306.9,78.1 L306.2,76.8 L305.3,76.2 L304.0,76.2 L303.1,75.6 L302.4,74.3 L302.1,72.4 L302.1,69.8 L302.4,67.9 L303.1,66.6Z" fill="none" stroke="#9a9a9a" stroke-width="0.5" stroke-dasharray="1.6,1.2"/>
<path d="M374.0,26.4 L375.8,30.0 L378.5,33.6 L382.2,35.9 L385.8,39.1 L388.5,43.6 L391.3,48.2 L393.2,52.9 L396.5,57.3 L399.7,62.7 L400.8,63.7" fill="none" stroke="#505050" stroke-width="0.5" stroke-dasharray="2,1" opacity="0.75"/>
<path d="M400.8,63.7 L404.7,65.3 L409.0,68.6 L413.4,69.6 L417.7,69.1 L422.1,66.4 L425.4,63.1" fill="none" stroke="#505050" stroke-width="0.5" stroke-dasharray="2,1" opacity="0.75"/>
<path d="M400.8,63.7 L397.1,67.5 L394.8,71.8 L393.8,75.1" fill="none" stroke="#505050" stroke-width="0.5" stroke-dasharray="2,1" opacity="0.75"/>
<path d="M393.8,75.1 L388.3,75.1 L382.9,74.0 L377.4,75.1 L371.2,75.6 L364.7,72.3 L359.2,70.1 L353.8,69.0 L350.6,66.7" fill="none" stroke="#505050" stroke-width="0.5" stroke-dasharray="2,1" opacity="0.75"/>
<path d="M393.8,75.1 L397.1,78.4 L401.4,81.1 L403.5,82.2 L399.2,84.9 L396.0,88.2 L394.8,91.5 L394.6,94.7" fill="none" stroke="#505050" stroke-width="0.5" stroke-dasharray="2,1" opacity="0.75"/>
<path d="M348.0,51.0 L350.0,60.6 L352.4,69.0 L356.0,75.0 L362.0,81.0 L366.8,84.6" fill="none" stroke="#505050" stroke-width="0.5" stroke-dasharray="2,1" opacity="0.75"/>
<text x="409.0" y="52.5" font-size="7.6" text-anchor="middle" stroke="#000" stroke-width="0.35">1</text>
<text x="373.4" y="55.8" font-size="7.6" text-anchor="middle" stroke="#000" stroke-width="0.35">2</text>
<text x="331.9" y="72.8" font-size="7.6" text-anchor="middle" stroke="#000" stroke-width="0.35">3</text>
<text x="383.5" y="87.2" font-size="7.6" text-anchor="middle" stroke="#000" stroke-width="0.35">4</text>
<text x="411.9" y="83.6" font-size="7.6" text-anchor="middle" stroke="#000" stroke-width="0.35">5</text>
<rect x="3.35" y="116.35" width="135.1" height="98.1" fill="none" stroke="#777" stroke-width="1.0"/>
<text transform="translate(8.05,129.85) scale(1.13,1)" font-size="7.35" stroke="#000" stroke-width="0.12">(b-1) TRMM 3B42V7</text>
<g shape-rendering="crispEdges"><rect x="59.10" y="138.05" width="10.25" height="5.15" fill="#ff5a00"/><rect x="69.30" y="138.05" width="10.25" height="5.15" fill="#ff8200"/><rect x="79.50" y="138.05" width="10.25" height="5.15" fill="#ffa000"/><rect x="89.70" y="138.05" width="15.35" height="5.15" fill="#ffc800"/><rect x="64.20" y="143.15" width="5.15" height="5.15" fill="#ff8200"/><rect x="69.30" y="143.15" width="15.35" height="5.15" fill="#ffa000"/><rect x="84.60" y="143.15" width="10.25" height="5.15" fill="#ffc800"/><rect x="94.80" y="143.15" width="5.15" height="5.15" fill="#ffff00"/><rect x="99.90" y="143.15" width="5.15" height="5.15" fill="#ffc800"/><rect x="59.10" y="148.25" width="5.15" height="5.15" fill="#ff8200"/><rect x="64.20" y="148.25" width="20.45" height="5.15" fill="#ffa000"/><rect x="84.60" y="148.25" width="5.15" height="5.15" fill="#ffc800"/><rect x="89.70" y="148.25" width="20.45" height="5.15" fill="#ffff00"/><rect x="59.10" y="153.35" width="25.55" height="5.15" fill="#ffa000"/><rect x="84.60" y="153.35" width="5.15" height="5.15" fill="#ffc800"/><rect x="89.70" y="153.35" width="5.15" height="5.15" fill="#ffff00"/><rect x="94.80" y="153.35" width="5.15" height="5.15" fill="#c3ff3c"/><rect x="99.90" y="153.35" width="5.15" height="5.15" fill="#ffff00"/><rect x="105.00" y="153.35" width="15.35" height="5.15" fill="#c3ff3c"/><rect x="38.70" y="158.45" width="5.15" height="5.15" fill="#ff8200"/><rect x="59.10" y="158.45" width="15.35" height="5.15" fill="#ffa000"/><rect x="74.40" y="158.45" width="15.35" height="5.15" fill="#ffc800"/><rect x="89.70" y="158.45" width="10.25" height="5.15" fill="#ffff00"/><rect x="99.90" y="158.45" width="25.55" height="5.15" fill="#c3ff3c"/><rect x="33.60" y="163.55" width="5.15" height="5.15" fill="#ff8200"/><rect x="38.70" y="163.55" width="10.25" height="5.15" fill="#ffa000"/><rect x="54.00" y="163.55" width="5.15" height="5.15" fill="#ffff00"/><rect x="59.10" y="163.55" width="25.55" height="5.15" fill="#ffc800"/><rect x="84.60" y="163.55" width="15.35" height="5.15" fill="#ffff00"/><rect x="99.90" y="163.55" width="25.55" height="5.15" fill="#c3ff3c"/><rect x="33.60" y="168.65" width="15.35" height="5.15" fill="#ffa000"/><rect x="48.90" y="168.65" width="5.15" height="5.15" fill="#ffc800"/><rect x="54.00" y="168.65" width="45.95" height="5.15" fill="#ffff00"/><rect x="99.90" y="168.65" width="10.25" height="5.15" fill="#c3ff3c"/><rect x="110.10" y="168.65" width="5.15" height="5.15" fill="#92f280"/><rect x="115.20" y="168.65" width="10.25" height="5.15" fill="#c3ff3c"/><rect x="125.40" y="168.65" width="5.15" height="5.15" fill="#ffff00"/><rect x="13.20" y="173.75" width="10.25" height="5.15" fill="#ffc800"/><rect x="28.50" y="173.75" width="20.45" height="5.15" fill="#ffa000"/><rect x="48.90" y="173.75" width="5.15" height="5.15" fill="#ffc800"/><rect x="54.00" y="173.75" width="5.15" height="5.15" fill="#ffff00"/><rect x="59.10" y="173.75" width="10.25" height="5.15" fill="#c3ff3c"/><rect x="69.30" y="173.75" width="35.75" height="5.15" fill="#ffff00"/><rect x="105.00" y="173.75" width="5.15" height="5.15" fill="#c3ff3c"/><rect x="110.10" y="173.75" width="5.15" height="5.15" fill="#92f280"/><rect x="115.20" y="173.75" width="10.25" height="5.15" fill="#c3ff3c"/><rect x="125.40" y="173.75" width="5.15" height="5.15" fill="#ffff00"/><rect x="8.10" y="178.85" width="5.15" height="5.15" fill="#ffff00"/><rect x="13.20" y="178.85" width="10.25" height="5.15" fill="#ffc800"/><rect x="23.40" y="178.85" width="25.55" height="5.15" fill="#ffa000"/><rect x="48.90" y="178.85" width="5.15" height="5.15" fill="#ffc800"/><rect x="54.00" y="178.85" width="5.15" height="5.15" fill="#ffff00"/><rect x="59.10" y="178.85" width="10.25" height="5.15" fill="#c3ff3c"/><rect x="69.30" y="178.85" width="40.85" height="5.15" fill="#ffff00"/><rect x="110.10" y="178.85" width="15.35" height="5.15" fill="#c3ff3c"/><rect x="125.40" y="178.85" width="5.15" height="5.15" fill="#ffff00"/><rect x="8.10" y="183.95" width="5.15" height="5.15" fill="#ffff00"/><rect x="13.20" y="183.95" width="5.15" height="5.15" fill="#c3ff3c"/><rect x="18.30" y="183.95" width="5.15" height="5.15" fill="#ffff00"/><rect x="23.40" y="183.95" width="5.15" height="5.15" fill="#ffc800"/><rect x="28.50" y="183.95" width="5.15" height="5.15" fill="#ffa000"/><rect x="33.60" y="183.95" width="5.15" height="5.15" fill="#ffc800"/><rect x="38.70" y="183.95" width="10.25" height="5.15" fill="#ffa000"/><rect x="48.90" y="183.95" width="5.15" height="5.15" fill="#ffc800"/><rect x="54.00" y="183.95" width="10.25" height="5.15" fill="#ffff00"/><rect x="64.20" y="183.95" width="5.15" height="5.15" fill="#c3ff3c"/><rect x="69.30" y="183.95" width="51.05" height="5.15" fill="#ffff00"/><rect x="120.30" y="183.95" width="15.35" height="5.15" fill="#ffc800"/><rect x="13.20" y="189.05" width="5.15" height="5.15" fill="#c3ff3c"/><rect x="18.30" y="189.05" width="5.15" height="5.15" fill="#ffff00"/><rect x="23.40" y="189.05" width="5.15" height="5.15" fill="#ffc800"/><rect x="28.50" y="189.05" width="5.15" height="5.15" fill="#ffa000"/><rect x="33.60" y="189.05" width="15.35" height="5.15" fill="#ffc800"/><rect x="48.90" y="189.05" width="10.25" height="5.15" fill="#ffff00"/><rect x="59.10" y="189.05" width="5.15" height="5.15" fill="#c3ff3c"/><rect x="64.20" y="189.05" width="10.25" height="5.15" fill="#92f280"/><rect x="74.40" y="189.05" width="5.15" height="5.15" fill="#c3ff3c"/><rect x="79.50" y="189.05" width="40.85" height="5.15" fill="#ffff00"/><rect x="120.30" y="189.05" width="15.35" height="5.15" fill="#ffc800"/><rect x="13.20" y="194.15" width="5.15" height="5.15" fill="#92f280"/><rect x="18.30" y="194.15" width="5.15" height="5.15" fill="#c3ff3c"/><rect x="43.80" y="194.15" width="5.15" height="5.15" fill="#ffff00"/><rect x="59.10" y="194.15" width="5.15" height="5.15" fill="#92f280"/><rect x="64.20" y="194.15" width="5.15" height="5.15" fill="#3cf0c8"/><rect x="69.30" y="194.15" width="5.15" height="5.15" fill="#92f280"/><rect x="74.40" y="194.15" width="15.35" height="5.15" fill="#c3ff3c"/><rect x="89.70" y="194.15" width="5.15" height="5.15" fill="#ffff00"/><rect x="94.80" y="194.15" width="30.65" height="5.15" fill="#c3ff3c"/><rect x="125.40" y="194.15" width="5.15" height="5.15" fill="#ffff00"/><rect x="79.50" y="199.25" width="15.35" height="5.15" fill="#3cf0c8"/><rect x="94.80" y="199.25" width="25.55" height="5.15" fill="#92f280"/><rect x="120.30" y="199.25" width="5.15" height="5.15" fill="#c3ff3c"/><rect x="84.60" y="204.35" width="25.55" height="5.15" fill="#00eef8"/><rect x="115.20" y="204.35" width="5.15" height="5.15" fill="#00eef8"/></g>
<path d="M10.0,178.8 L11.3,178.8 L12.2,178.5 L12.9,177.9 L13.2,176.9 L13.2,175.7 L13.8,174.7 L15.1,174.1 L17.0,173.7 L19.6,173.7 L21.5,174.1 L22.8,174.7 L23.4,175.7 L23.4,176.9 L23.7,177.9 L24.4,178.5 L25.3,178.8 L26.6,178.8 L27.5,178.5 L28.2,177.9 L28.5,176.9 L28.5,175.7 L28.8,174.7 L29.5,174.1 L30.4,173.7 L31.7,173.7 L32.6,173.1 L33.3,171.8 L33.6,169.9 L33.6,167.4 L33.9,165.5 L34.6,164.2 L35.5,163.5 L36.8,163.5 L37.7,163.2 L38.4,162.6 L38.7,161.6 L38.7,160.4 L39.0,159.4 L39.7,158.8 L40.6,158.4 L41.9,158.4 L42.8,158.8 L43.5,159.4 L43.8,160.4 L43.8,161.6 L44.1,162.6 L44.8,163.2 L45.7,163.5 L47.0,163.5 L47.9,163.9 L48.6,164.5 L48.9,165.5 L48.9,166.7 L49.2,167.7 L49.9,168.3 L50.8,168.6 L52.1,168.6 L53.0,168.3 L53.7,167.7 L54.0,166.7 L54.0,165.5 L54.3,164.5 L55.0,163.9 L55.9,163.5 L57.2,163.5 L58.1,162.6 L58.8,160.7 L59.1,157.8 L59.1,154.0 L59.4,151.1 L60.1,149.2 L61.0,148.2 L62.3,148.2 L63.2,147.9 L63.9,147.3 L64.2,146.3 L64.2,145.1 L63.9,144.1 L63.2,143.5 L62.3,143.1 L61.0,143.1 L60.1,142.8 L59.4,142.2 L59.1,141.2 L59.1,140.0 L62.0,139.0 L67.7,138.4 L76.3,138.0 L87.8,138.0 L96.4,138.7 L102.1,140.0 L105.0,141.9 L105.0,144.4 L105.3,146.3 L106.0,147.6 L106.9,148.2 L108.2,148.2 L109.1,148.6 L109.8,149.2 L110.1,150.2 L110.1,151.4 L110.7,152.4 L112.0,153.0 L113.9,153.3 L116.5,153.3 L118.4,153.7 L119.7,154.3 L120.3,155.3 L120.3,156.5 L120.6,157.5 L121.3,158.1 L122.2,158.4 L123.5,158.4 L124.4,159.1 L125.1,160.4 L125.4,162.3 L125.4,164.8 L125.7,166.7 L126.4,168.0 L127.3,168.6 L128.6,168.6 L129.5,169.6 L130.2,171.5 L130.5,174.4 L130.5,178.2 L130.8,181.1 L131.5,183.0 L132.4,183.9 L133.7,183.9 L134.6,184.6 L135.3,185.9 L135.6,187.8 L135.6,190.3 L135.3,192.2 L134.6,193.5 L133.7,194.1 L132.4,194.1 L131.5,194.5 L130.8,195.1 L130.5,196.1 L130.5,197.3 L130.2,198.3 L129.5,198.9 L128.6,199.2 L127.3,199.2 L126.4,199.6 L125.7,200.2 L125.4,201.2 L125.4,202.4 L125.1,203.4 L124.4,204.0 L123.5,204.3 L122.2,204.3 L121.3,204.7 L120.6,205.3 L120.3,206.3 L120.3,207.5 L120.0,208.5 L119.3,209.1 L118.4,209.4 L117.1,209.4 L116.2,209.1 L115.5,208.5 L115.2,207.5 L115.2,206.3 L114.9,205.3 L114.2,204.7 L113.3,204.3 L112.0,204.3 L111.1,204.7 L110.4,205.3 L110.1,206.3 L110.1,207.5 L108.5,208.5 L105.3,209.1 L100.5,209.4 L94.2,209.4 L89.4,209.1 L86.2,208.5 L84.6,207.5 L84.6,206.3 L84.3,205.3 L83.6,204.7 L82.7,204.3 L81.4,204.3 L80.5,204.0 L79.8,203.4 L79.5,202.4 L79.5,201.2 L78.2,200.2 L75.7,199.6 L71.8,199.2 L66.7,199.2 L62.9,198.9 L60.4,198.3 L59.1,197.3 L59.1,196.1 L58.5,195.1 L57.2,194.5 L55.3,194.1 L52.7,194.1 L50.8,194.5 L49.5,195.1 L48.9,196.1 L48.9,197.3 L48.6,198.3 L47.9,198.9 L47.0,199.2 L45.7,199.2 L44.8,198.9 L44.1,198.3 L43.8,197.3 L43.8,196.1 L42.5,195.1 L40.0,194.5 L36.1,194.1 L31.0,194.1 L27.2,194.5 L24.7,195.1 L23.4,196.1 L23.4,197.3 L22.8,198.3 L21.5,198.9 L19.6,199.2 L17.0,199.2 L15.1,198.6 L13.8,197.3 L13.2,195.4 L13.2,192.9 L12.9,191.0 L12.2,189.7 L11.3,189.0 L10.0,189.0 L9.1,188.4 L8.4,187.1 L8.1,185.2 L8.1,182.7 L8.4,180.8 L9.1,179.5Z" fill="none" stroke="#9a9a9a" stroke-width="0.5" stroke-dasharray="1.6,1.2"/>
<path d="M80.0,139.2 L81.8,142.8 L84.5,146.4 L88.2,148.7 L91.8,151.9 L94.5,156.4 L97.3,161.0 L99.2,165.7 L102.5,170.1 L105.7,175.5 L106.8,176.5" fill="none" stroke="#505050" stroke-width="0.5" stroke-dasharray="2,1" opacity="0.75"/>
<path d="M106.8,176.5 L110.7,178.1 L115.0,181.4 L119.4,182.4 L123.7,181.9 L128.1,179.2 L131.4,175.9" fill="none" stroke="#505050" stroke-width="0.5" stroke-dasharray="2,1" opacity="0.75"/>
<path d="M106.8,176.5 L103.1,180.3 L100.8,184.6 L99.8,187.9" fill="none" stroke="#505050" stroke-width="0.5" stroke-dasharray="2,1" opacity="0.75"/>
<path d="M99.8,187.9 L94.3,187.9 L88.9,186.8 L83.4,187.9 L77.2,188.4 L70.7,185.1 L65.2,182.9 L59.8,181.8 L56.6,179.5" fill="none" stroke="#505050" stroke-width="0.5" stroke-dasharray="2,1" opacity="0.75"/>
<path d="M99.8,187.9 L103.1,191.2 L107.4,193.9 L109.5,195.0 L105.2,197.8 L102.0,201.0 L100.8,204.3 L100.6,207.5" fill="none" stroke="#505050" stroke-width="0.5" stroke-dasharray="2,1" opacity="0.75"/>
<path d="M54.0,163.8 L56.0,173.4 L58.4,181.8 L62.0,187.8 L68.0,193.8 L72.8,197.4" fill="none" stroke="#505050" stroke-width="0.5" stroke-dasharray="2,1" opacity="0.75"/>
<text x="115.0" y="165.3" font-size="7.6" text-anchor="middle" stroke="#000" stroke-width="0.35">1</text>
<text x="79.4" y="168.6" font-size="7.6" text-anchor="middle" stroke="#000" stroke-width="0.35">2</text>
<text x="37.9" y="185.7" font-size="7.6" text-anchor="middle" stroke="#000" stroke-width="0.35">3</text>
<text x="89.5" y="200.0" font-size="7.6" text-anchor="middle" stroke="#000" stroke-width="0.35">4</text>
<text x="117.9" y="196.4" font-size="7.6" text-anchor="middle" stroke="#000" stroke-width="0.35">5</text>
<rect x="150.35" y="116.35" width="135.1" height="98.1" fill="none" stroke="#777" stroke-width="1.0"/>
<text transform="translate(155.05,129.85) scale(1.13,1)" font-size="7.35" stroke="#000" stroke-width="0.12">(b-2) PERSIANN CDR</text>
<g shape-rendering="crispEdges"><rect x="206.10" y="138.05" width="10.25" height="5.15" fill="#ff1e00"/><rect x="216.30" y="138.05" width="20.45" height="5.15" fill="#ff5a00"/><rect x="236.70" y="138.05" width="15.35" height="5.15" fill="#ff8200"/><rect x="211.20" y="143.15" width="15.35" height="5.15" fill="#ff5a00"/><rect x="226.50" y="143.15" width="15.35" height="5.15" fill="#ff8200"/><rect x="241.80" y="143.15" width="10.25" height="5.15" fill="#ffa000"/><rect x="206.10" y="148.25" width="5.15" height="5.15" fill="#ff5a00"/><rect x="211.20" y="148.25" width="20.45" height="5.15" fill="#ff8200"/><rect x="231.60" y="148.25" width="25.55" height="5.15" fill="#ffa000"/><rect x="206.10" y="153.35" width="10.25" height="5.15" fill="#ff8200"/><rect x="216.30" y="153.35" width="25.55" height="5.15" fill="#ffa000"/><rect x="241.80" y="153.35" width="10.25" height="5.15" fill="#ffc800"/><rect x="252.00" y="153.35" width="15.35" height="5.15" fill="#ffff00"/><rect x="185.70" y="158.45" width="5.15" height="5.15" fill="#ff5a00"/><rect x="206.10" y="158.45" width="5.15" height="5.15" fill="#ff8200"/><rect x="211.20" y="158.45" width="25.55" height="5.15" fill="#ffa000"/><rect x="236.70" y="158.45" width="15.35" height="5.15" fill="#ffc800"/><rect x="252.00" y="158.45" width="20.45" height="5.15" fill="#ffff00"/><rect x="180.60" y="163.55" width="15.35" height="5.15" fill="#ff5a00"/><rect x="201.00" y="163.55" width="20.45" height="5.15" fill="#ffa000"/><rect x="221.40" y="163.55" width="25.55" height="5.15" fill="#ffc800"/><rect x="246.90" y="163.55" width="25.55" height="5.15" fill="#ffff00"/><rect x="180.60" y="168.65" width="10.25" height="5.15" fill="#ff5a00"/><rect x="190.80" y="168.65" width="10.25" height="5.15" fill="#ff8200"/><rect x="201.00" y="168.65" width="10.25" height="5.15" fill="#ffa000"/><rect x="211.20" y="168.65" width="35.75" height="5.15" fill="#ffc800"/><rect x="246.90" y="168.65" width="30.65" height="5.15" fill="#ffff00"/><rect x="160.20" y="173.75" width="10.25" height="5.15" fill="#ffa000"/><rect x="175.50" y="173.75" width="20.45" height="5.15" fill="#ff8200"/><rect x="195.90" y="173.75" width="5.15" height="5.15" fill="#ffa000"/><rect x="201.00" y="173.75" width="5.15" height="5.15" fill="#ffc800"/><rect x="206.10" y="173.75" width="5.15" height="5.15" fill="#ffff00"/><rect x="211.20" y="173.75" width="25.55" height="5.15" fill="#ffc800"/><rect x="236.70" y="173.75" width="15.35" height="5.15" fill="#ffff00"/><rect x="252.00" y="173.75" width="20.45" height="5.15" fill="#c3ff3c"/><rect x="272.40" y="173.75" width="5.15" height="5.15" fill="#ffff00"/><rect x="155.10" y="178.85" width="10.25" height="5.15" fill="#ffa000"/><rect x="165.30" y="178.85" width="30.65" height="5.15" fill="#ff8200"/><rect x="195.90" y="178.85" width="5.15" height="5.15" fill="#ffa000"/><rect x="201.00" y="178.85" width="5.15" height="5.15" fill="#ffc800"/><rect x="206.10" y="178.85" width="51.05" height="5.15" fill="#ffff00"/><rect x="257.10" y="178.85" width="10.25" height="5.15" fill="#c3ff3c"/><rect x="267.30" y="178.85" width="10.25" height="5.15" fill="#ffff00"/><rect x="155.10" y="183.95" width="5.15" height="5.15" fill="#ffff00"/><rect x="160.20" y="183.95" width="10.25" height="5.15" fill="#ffc800"/><rect x="170.40" y="183.95" width="25.55" height="5.15" fill="#ffa000"/><rect x="195.90" y="183.95" width="5.15" height="5.15" fill="#ffc800"/><rect x="201.00" y="183.95" width="5.15" height="5.15" fill="#ffff00"/><rect x="206.10" y="183.95" width="5.15" height="5.15" fill="#c3ff3c"/><rect x="211.20" y="183.95" width="71.45" height="5.15" fill="#ffff00"/><rect x="160.20" y="189.05" width="5.15" height="5.15" fill="#c3ff3c"/><rect x="165.30" y="189.05" width="5.15" height="5.15" fill="#ffff00"/><rect x="170.40" y="189.05" width="30.65" height="5.15" fill="#ffc800"/><rect x="201.00" y="189.05" width="5.15" height="5.15" fill="#ffff00"/><rect x="206.10" y="189.05" width="10.25" height="5.15" fill="#c3ff3c"/><rect x="216.30" y="189.05" width="66.35" height="5.15" fill="#ffff00"/><rect x="160.20" y="194.15" width="10.25" height="5.15" fill="#c3ff3c"/><rect x="190.80" y="194.15" width="5.15" height="5.15" fill="#ffff00"/><rect x="206.10" y="194.15" width="10.25" height="5.15" fill="#92f280"/><rect x="216.30" y="194.15" width="10.25" height="5.15" fill="#c3ff3c"/><rect x="226.50" y="194.15" width="45.95" height="5.15" fill="#ffff00"/><rect x="272.40" y="194.15" width="5.15" height="5.15" fill="#c3ff3c"/><rect x="226.50" y="199.25" width="5.15" height="5.15" fill="#ffff00"/><rect x="231.60" y="199.25" width="20.45" height="5.15" fill="#c3ff3c"/><rect x="252.00" y="199.25" width="15.35" height="5.15" fill="#92f280"/><rect x="267.30" y="199.25" width="5.15" height="5.15" fill="#ffff00"/><rect x="231.60" y="204.35" width="5.15" height="5.15" fill="#92f280"/><rect x="236.70" y="204.35" width="15.35" height="5.15" fill="#00eef8"/><rect x="252.00" y="204.35" width="5.15" height="5.15" fill="#3cf0c8"/><rect x="262.20" y="204.35" width="5.15" height="5.15" fill="#00eef8"/></g>
<path d="M157.0,178.8 L158.3,178.8 L159.2,178.5 L159.9,177.9 L160.2,176.9 L160.2,175.7 L160.8,174.7 L162.1,174.1 L164.0,173.7 L166.6,173.7 L168.5,174.1 L169.8,174.7 L170.4,175.7 L170.4,176.9 L170.7,177.9 L171.4,178.5 L172.3,178.8 L173.6,178.8 L174.5,178.5 L175.2,177.9 L175.5,176.9 L175.5,175.7 L175.8,174.7 L176.5,174.1 L177.4,173.7 L178.7,173.7 L179.6,173.1 L180.3,171.8 L180.6,169.9 L180.6,167.4 L180.9,165.5 L181.6,164.2 L182.5,163.5 L183.8,163.5 L184.7,163.2 L185.4,162.6 L185.7,161.6 L185.7,160.4 L186.0,159.4 L186.7,158.8 L187.6,158.4 L188.9,158.4 L189.8,158.8 L190.5,159.4 L190.8,160.4 L190.8,161.6 L191.1,162.6 L191.8,163.2 L192.7,163.5 L194.0,163.5 L194.9,163.9 L195.6,164.5 L195.9,165.5 L195.9,166.7 L196.2,167.7 L196.9,168.3 L197.8,168.6 L199.1,168.6 L200.0,168.3 L200.7,167.7 L201.0,166.7 L201.0,165.5 L201.3,164.5 L202.0,163.9 L202.9,163.5 L204.2,163.5 L205.1,162.6 L205.8,160.7 L206.1,157.8 L206.1,154.0 L206.4,151.1 L207.1,149.2 L208.0,148.2 L209.3,148.2 L210.2,147.9 L210.9,147.3 L211.2,146.3 L211.2,145.1 L210.9,144.1 L210.2,143.5 L209.3,143.1 L208.0,143.1 L207.1,142.8 L206.4,142.2 L206.1,141.2 L206.1,140.0 L209.0,139.0 L214.7,138.4 L223.3,138.0 L234.8,138.0 L243.4,138.7 L249.1,140.0 L252.0,141.9 L252.0,144.4 L252.3,146.3 L253.0,147.6 L253.9,148.2 L255.2,148.2 L256.1,148.6 L256.8,149.2 L257.1,150.2 L257.1,151.4 L257.7,152.4 L259.0,153.0 L260.9,153.3 L263.5,153.3 L265.4,153.7 L266.7,154.3 L267.3,155.3 L267.3,156.5 L267.6,157.5 L268.3,158.1 L269.2,158.4 L270.5,158.4 L271.4,159.1 L272.1,160.4 L272.4,162.3 L272.4,164.8 L272.7,166.7 L273.4,168.0 L274.3,168.6 L275.6,168.6 L276.5,169.6 L277.2,171.5 L277.5,174.4 L277.5,178.2 L277.8,181.1 L278.5,183.0 L279.4,183.9 L280.7,183.9 L281.6,184.6 L282.3,185.9 L282.6,187.8 L282.6,190.3 L282.3,192.2 L281.6,193.5 L280.7,194.1 L279.4,194.1 L278.5,194.5 L277.8,195.1 L277.5,196.1 L277.5,197.3 L277.2,198.3 L276.5,198.9 L275.6,199.2 L274.3,199.2 L273.4,199.6 L272.7,200.2 L272.4,201.2 L272.4,202.4 L272.1,203.4 L271.4,204.0 L270.5,204.3 L269.2,204.3 L268.3,204.7 L267.6,205.3 L267.3,206.3 L267.3,207.5 L267.0,208.5 L266.3,209.1 L265.4,209.4 L264.1,209.4 L263.2,209.1 L262.5,208.5 L262.2,207.5 L262.2,206.3 L261.9,205.3 L261.2,204.7 L260.3,204.3 L259.0,204.3 L258.1,204.7 L257.4,205.3 L257.1,206.3 L257.1,207.5 L255.5,208.5 L252.3,209.1 L247.5,209.4 L241.2,209.4 L236.4,209.1 L233.2,208.5 L231.6,207.5 L231.6,206.3 L231.3,205.3 L230.6,204.7 L229.7,204.3 L228.4,204.3 L227.5,204.0 L226.8,203.4 L226.5,202.4 L226.5,201.2 L225.2,200.2 L222.7,199.6 L218.8,199.2 L213.8,199.2 L209.9,198.9 L207.4,198.3 L206.1,197.3 L206.1,196.1 L205.5,195.1 L204.2,194.5 L202.3,194.1 L199.7,194.1 L197.8,194.5 L196.5,195.1 L195.9,196.1 L195.9,197.3 L195.6,198.3 L194.9,198.9 L194.0,199.2 L192.7,199.2 L191.8,198.9 L191.1,198.3 L190.8,197.3 L190.8,196.1 L189.5,195.1 L187.0,194.5 L183.1,194.1 L178.0,194.1 L174.2,194.5 L171.7,195.1 L170.4,196.1 L170.4,197.3 L169.8,198.3 L168.5,198.9 L166.6,199.2 L164.0,199.2 L162.1,198.6 L160.8,197.3 L160.2,195.4 L160.2,192.9 L159.9,191.0 L159.2,189.7 L158.3,189.0 L157.0,189.0 L156.1,188.4 L155.4,187.1 L155.1,185.2 L155.1,182.7 L155.4,180.8 L156.1,179.5Z" fill="none" stroke="#9a9a9a" stroke-width="0.5" stroke-dasharray="1.6,1.2"/>
<path d="M227.0,139.2 L228.8,142.8 L231.5,146.4 L235.2,148.7 L238.8,151.9 L241.5,156.4 L244.3,161.0 L246.2,165.7 L249.5,170.1 L252.7,175.5 L253.8,176.5" fill="none" stroke="#505050" stroke-width="0.5" stroke-dasharray="2,1" opacity="0.75"/>
<path d="M253.8,176.5 L257.7,178.1 L262.0,181.4 L266.4,182.4 L270.7,181.9 L275.1,179.2 L278.4,175.9" fill="none" stroke="#505050" stroke-width="0.5" stroke-dasharray="2,1" opacity="0.75"/>
<path d="M253.8,176.5 L250.1,180.3 L247.8,184.6 L246.8,187.9" fill="none" stroke="#505050" stroke-width="0.5" stroke-dasharray="2,1" opacity="0.75"/>
<path d="M246.8,187.9 L241.3,187.9 L235.9,186.8 L230.4,187.9 L224.2,188.4 L217.7,185.1 L212.2,182.9 L206.8,181.8 L203.6,179.5" fill="none" stroke="#505050" stroke-width="0.5" stroke-dasharray="2,1" opacity="0.75"/>
<path d="M246.8,187.9 L250.1,191.2 L254.4,193.9 L256.5,195.0 L252.2,197.8 L249.0,201.0 L247.8,204.3 L247.6,207.5" fill="none" stroke="#505050" stroke-width="0.5" stroke-dasharray="2,1" opacity="0.75"/>
<path d="M201.0,163.8 L203.0,173.4 L205.4,181.8 L209.0,187.8 L215.0,193.8 L219.8,197.4" fill="none" stroke="#505050" stroke-width="0.5" stroke-dasharray="2,1" opacity="0.75"/>
<text x="262.0" y="165.3" font-size="7.6" text-anchor="middle" stroke="#000" stroke-width="0.35">1</text>
<text x="226.4" y="168.6" font-size="7.6" text-anchor="middle" stroke="#000" stroke-width="0.35">2</text>
<text x="184.9" y="185.7" font-size="7.6" text-anchor="middle" stroke="#000" stroke-width="0.35">3</text>
<text x="236.5" y="200.0" font-size="7.6" text-anchor="middle" stroke="#000" stroke-width="0.35">4</text>
<text x="264.9" y="196.4" font-size="7.6" text-anchor="middle" stroke="#000" stroke-width="0.35">5</text>
<rect x="297.35" y="116.35" width="135.1" height="98.1" fill="none" stroke="#777" stroke-width="1.0"/>
<text transform="translate(302.05,129.85) scale(1.13,1)" font-size="7.35" stroke="#000" stroke-width="0.12">(b-3) CMORPH CRT</text>
<g shape-rendering="crispEdges"><rect x="353.10" y="138.05" width="5.15" height="5.15" fill="#ff1e00"/><rect x="358.20" y="138.05" width="5.15" height="5.15" fill="#ff5a00"/><rect x="363.30" y="138.05" width="5.15" height="5.15" fill="#ff8200"/><rect x="368.40" y="138.05" width="15.35" height="5.15" fill="#ffa000"/><rect x="383.70" y="138.05" width="15.35" height="5.15" fill="#ffc800"/><rect x="358.20" y="143.15" width="10.25" height="5.15" fill="#ff8200"/><rect x="368.40" y="143.15" width="10.25" height="5.15" fill="#ffa000"/><rect x="378.60" y="143.15" width="20.45" height="5.15" fill="#ffc800"/><rect x="353.10" y="148.25" width="5.15" height="5.15" fill="#ff5a00"/><rect x="358.20" y="148.25" width="10.25" height="5.15" fill="#ffa000"/><rect x="368.40" y="148.25" width="20.45" height="5.15" fill="#ffc800"/><rect x="388.80" y="148.25" width="15.35" height="5.15" fill="#ffff00"/><rect x="353.10" y="153.35" width="5.15" height="5.15" fill="#ff8200"/><rect x="358.20" y="153.35" width="10.25" height="5.15" fill="#ffa000"/><rect x="368.40" y="153.35" width="10.25" height="5.15" fill="#ffc800"/><rect x="378.60" y="153.35" width="30.65" height="5.15" fill="#ffff00"/><rect x="409.20" y="153.35" width="5.15" height="5.15" fill="#c3ff3c"/><rect x="332.70" y="158.45" width="5.15" height="5.15" fill="#ff5a00"/><rect x="353.10" y="158.45" width="10.25" height="5.15" fill="#ffa000"/><rect x="363.30" y="158.45" width="10.25" height="5.15" fill="#ffc800"/><rect x="373.50" y="158.45" width="30.65" height="5.15" fill="#ffff00"/><rect x="404.10" y="158.45" width="10.25" height="5.15" fill="#c3ff3c"/><rect x="414.30" y="158.45" width="5.15" height="5.15" fill="#ffff00"/><rect x="327.60" y="163.55" width="15.35" height="5.15" fill="#ff5a00"/><rect x="348.00" y="163.55" width="5.15" height="5.15" fill="#ffc800"/><rect x="353.10" y="163.55" width="5.15" height="5.15" fill="#ffa000"/><rect x="358.20" y="163.55" width="15.35" height="5.15" fill="#ffc800"/><rect x="373.50" y="163.55" width="45.95" height="5.15" fill="#ffff00"/><rect x="327.60" y="168.65" width="15.35" height="5.15" fill="#ff8200"/><rect x="342.90" y="168.65" width="5.15" height="5.15" fill="#ffa000"/><rect x="348.00" y="168.65" width="20.45" height="5.15" fill="#ffc800"/><rect x="368.40" y="168.65" width="56.15" height="5.15" fill="#ffff00"/><rect x="307.20" y="173.75" width="10.25" height="5.15" fill="#ffa000"/><rect x="322.50" y="173.75" width="5.15" height="5.15" fill="#ffa000"/><rect x="327.60" y="173.75" width="15.35" height="5.15" fill="#ff8200"/><rect x="342.90" y="173.75" width="5.15" height="5.15" fill="#ffa000"/><rect x="348.00" y="173.75" width="5.15" height="5.15" fill="#ffc800"/><rect x="353.10" y="173.75" width="5.15" height="5.15" fill="#ffff00"/><rect x="358.20" y="173.75" width="30.65" height="5.15" fill="#ffc800"/><rect x="388.80" y="173.75" width="15.35" height="5.15" fill="#ffff00"/><rect x="404.10" y="173.75" width="10.25" height="5.15" fill="#c3ff3c"/><rect x="414.30" y="173.75" width="10.25" height="5.15" fill="#ffff00"/><rect x="302.10" y="178.85" width="5.15" height="5.15" fill="#ffc800"/><rect x="307.20" y="178.85" width="15.35" height="5.15" fill="#ffa000"/><rect x="322.50" y="178.85" width="20.45" height="5.15" fill="#ff8200"/><rect x="342.90" y="178.85" width="5.15" height="5.15" fill="#ffa000"/><rect x="348.00" y="178.85" width="5.15" height="5.15" fill="#ffc800"/><rect x="353.10" y="178.85" width="51.05" height="5.15" fill="#ffff00"/><rect x="404.10" y="178.85" width="15.35" height="5.15" fill="#c3ff3c"/><rect x="419.40" y="178.85" width="5.15" height="5.15" fill="#ffff00"/><rect x="302.10" y="183.95" width="5.15" height="5.15" fill="#ffff00"/><rect x="307.20" y="183.95" width="5.15" height="5.15" fill="#ffc800"/><rect x="312.30" y="183.95" width="15.35" height="5.15" fill="#ffa000"/><rect x="327.60" y="183.95" width="10.25" height="5.15" fill="#ff8200"/><rect x="337.80" y="183.95" width="10.25" height="5.15" fill="#ffa000"/><rect x="348.00" y="183.95" width="5.15" height="5.15" fill="#ffff00"/><rect x="353.10" y="183.95" width="5.15" height="5.15" fill="#c3ff3c"/><rect x="358.20" y="183.95" width="71.45" height="5.15" fill="#ffff00"/><rect x="307.20" y="189.05" width="5.15" height="5.15" fill="#ffff00"/><rect x="312.30" y="189.05" width="5.15" height="5.15" fill="#ffc800"/><rect x="317.40" y="189.05" width="25.55" height="5.15" fill="#ffa000"/><rect x="342.90" y="189.05" width="5.15" height="5.15" fill="#ffc800"/><rect x="348.00" y="189.05" width="5.15" height="5.15" fill="#ffff00"/><rect x="353.10" y="189.05" width="10.25" height="5.15" fill="#c3ff3c"/><rect x="363.30" y="189.05" width="66.35" height="5.15" fill="#ffff00"/><rect x="307.20" y="194.15" width="10.25" height="5.15" fill="#c3ff3c"/><rect x="337.80" y="194.15" width="5.15" height="5.15" fill="#ffc800"/><rect x="353.10" y="194.15" width="10.25" height="5.15" fill="#92f280"/><rect x="363.30" y="194.15" width="10.25" height="5.15" fill="#c3ff3c"/><rect x="373.50" y="194.15" width="45.95" height="5.15" fill="#ffff00"/><rect x="419.40" y="194.15" width="5.15" height="5.15" fill="#c3ff3c"/><rect x="373.50" y="199.25" width="10.25" height="5.15" fill="#3cf0c8"/><rect x="383.70" y="199.25" width="15.35" height="5.15" fill="#92f280"/><rect x="399.00" y="199.25" width="20.45" height="5.15" fill="#c3ff3c"/><rect x="378.60" y="204.35" width="5.15" height="5.15" fill="#3cf0c8"/><rect x="383.70" y="204.35" width="5.15" height="5.15" fill="#00eef8"/><rect x="388.80" y="204.35" width="15.35" height="5.15" fill="#3cf0c8"/><rect x="409.20" y="204.35" width="5.15" height="5.15" fill="#3cf0c8"/></g>
<path d="M304.0,178.8 L305.3,178.8 L306.2,178.5 L306.9,177.9 L307.2,176.9 L307.2,175.7 L307.8,174.7 L309.1,174.1 L311.0,173.7 L313.6,173.7 L315.5,174.1 L316.8,174.7 L317.4,175.7 L317.4,176.9 L317.7,177.9 L318.4,178.5 L319.3,178.8 L320.6,178.8 L321.5,178.5 L322.2,177.9 L322.5,176.9 L322.5,175.7 L322.8,174.7 L323.5,174.1 L324.4,173.7 L325.7,173.7 L326.6,173.1 L327.3,171.8 L327.6,169.9 L327.6,167.4 L327.9,165.5 L328.6,164.2 L329.5,163.5 L330.8,163.5 L331.7,163.2 L332.4,162.6 L332.7,161.6 L332.7,160.4 L333.0,159.4 L333.7,158.8 L334.6,158.4 L335.9,158.4 L336.8,158.8 L337.5,159.4 L337.8,160.4 L337.8,161.6 L338.1,162.6 L338.8,163.2 L339.7,163.5 L341.0,163.5 L341.9,163.9 L342.6,164.5 L342.9,165.5 L342.9,166.7 L343.2,167.7 L343.9,168.3 L344.8,168.6 L346.1,168.6 L347.0,168.3 L347.7,167.7 L348.0,166.7 L348.0,165.5 L348.3,164.5 L349.0,163.9 L349.9,163.5 L351.2,163.5 L352.1,162.6 L352.8,160.7 L353.1,157.8 L353.1,154.0 L353.4,151.1 L354.1,149.2 L355.0,148.2 L356.3,148.2 L357.2,147.9 L357.9,147.3 L358.2,146.3 L358.2,145.1 L357.9,144.1 L357.2,143.5 L356.3,143.1 L355.0,143.1 L354.1,142.8 L353.4,142.2 L353.1,141.2 L353.1,140.0 L356.0,139.0 L361.7,138.4 L370.3,138.0 L381.8,138.0 L390.4,138.7 L396.1,140.0 L399.0,141.9 L399.0,144.4 L399.3,146.3 L400.0,147.6 L400.9,148.2 L402.2,148.2 L403.1,148.6 L403.8,149.2 L404.1,150.2 L404.1,151.4 L404.7,152.4 L406.0,153.0 L407.9,153.3 L410.5,153.3 L412.4,153.7 L413.7,154.3 L414.3,155.3 L414.3,156.5 L414.6,157.5 L415.3,158.1 L416.2,158.4 L417.5,158.4 L418.4,159.1 L419.1,160.4 L419.4,162.3 L419.4,164.8 L419.7,166.7 L420.4,168.0 L421.3,168.6 L422.6,168.6 L423.5,169.6 L424.2,171.5 L424.5,174.4 L424.5,178.2 L424.8,181.1 L425.5,183.0 L426.4,183.9 L427.7,183.9 L428.6,184.6 L429.3,185.9 L429.6,187.8 L429.6,190.3 L429.3,192.2 L428.6,193.5 L427.7,194.1 L426.4,194.1 L425.5,194.5 L424.8,195.1 L424.5,196.1 L424.5,197.3 L424.2,198.3 L423.5,198.9 L422.6,199.2 L421.3,199.2 L420.4,199.6 L419.7,200.2 L419.4,201.2 L419.4,202.4 L419.1,203.4 L418.4,204.0 L417.5,204.3 L416.2,204.3 L415.3,204.7 L414.6,205.3 L414.3,206.3 L414.3,207.5 L414.0,208.5 L413.3,209.1 L412.4,209.4 L411.1,209.4 L410.2,209.1 L409.5,208.5 L409.2,207.5 L409.2,206.3 L408.9,205.3 L408.2,204.7 L407.3,204.3 L406.0,204.3 L405.1,204.7 L404.4,205.3 L404.1,206.3 L404.1,207.5 L402.5,208.5 L399.3,209.1 L394.5,209.4 L388.2,209.4 L383.4,209.1 L380.2,208.5 L378.6,207.5 L378.6,206.3 L378.3,205.3 L377.6,204.7 L376.7,204.3 L375.4,204.3 L374.5,204.0 L373.8,203.4 L373.5,202.4 L373.5,201.2 L372.2,200.2 L369.7,199.6 L365.9,199.2 L360.8,199.2 L356.9,198.9 L354.4,198.3 L353.1,197.3 L353.1,196.1 L352.5,195.1 L351.2,194.5 L349.3,194.1 L346.7,194.1 L344.8,194.5 L343.5,195.1 L342.9,196.1 L342.9,197.3 L342.6,198.3 L341.9,198.9 L341.0,199.2 L339.7,199.2 L338.8,198.9 L338.1,198.3 L337.8,197.3 L337.8,196.1 L336.5,195.1 L334.0,194.5 L330.2,194.1 L325.1,194.1 L321.2,194.5 L318.7,195.1 L317.4,196.1 L317.4,197.3 L316.8,198.3 L315.5,198.9 L313.6,199.2 L311.0,199.2 L309.1,198.6 L307.8,197.3 L307.2,195.4 L307.2,192.9 L306.9,191.0 L306.2,189.7 L305.3,189.0 L304.0,189.0 L303.1,188.4 L302.4,187.1 L302.1,185.2 L302.1,182.7 L302.4,180.8 L303.1,179.5Z" fill="none" stroke="#9a9a9a" stroke-width="0.5" stroke-dasharray="1.6,1.2"/>
<path d="M374.0,139.2 L375.8,142.8 L378.5,146.4 L382.2,148.7 L385.8,151.9 L388.5,156.4 L391.3,161.0 L393.2,165.7 L396.5,170.1 L399.7,175.5 L400.8,176.5" fill="none" stroke="#505050" stroke-width="0.5" stroke-dasharray="2,1" opacity="0.75"/>
<path d="M400.8,176.5 L404.7,178.1 L409.0,181.4 L413.4,182.4 L417.7,181.9 L422.1,179.2 L425.4,175.9" fill="none" stroke="#505050" stroke-width="0.5" stroke-dasharray="2,1" opacity="0.75"/>
<path d="M400.8,176.5 L397.1,180.3 L394.8,184.6 L393.8,187.9" fill="none" stroke="#505050" stroke-width="0.5" stroke-dasharray="2,1" opacity="0.75"/>
<path d="M393.8,187.9 L388.3,187.9 L382.9,186.8 L377.4,187.9 L371.2,188.4 L364.7,185.1 L359.2,182.9 L353.8,181.8 L350.6,179.5" fill="none" stroke="#505050" stroke-width="0.5" stroke-dasharray="2,1" opacity="0.75"/>
<path d="M393.8,187.9 L397.1,191.2 L401.4,193.9 L403.5,195.0 L399.2,197.8 L396.0,201.0 L394.8,204.3 L394.6,207.5" fill="none" stroke="#505050" stroke-width="0.5" stroke-dasharray="2,1" opacity="0.75"/>
<path d="M348.0,163.8 L350.0,173.4 L352.4,181.8 L356.0,187.8 L362.0,193.8 L366.8,197.4" fill="none" stroke="#505050" stroke-width="0.5" stroke-dasharray="2,1" opacity="0.75"/>
<text x="409.0" y="165.3" font-size="7.6" text-anchor="middle" stroke="#000" stroke-width="0.35">1</text>
<text x="373.4" y="168.6" font-size="7.6" text-anchor="middle" stroke="#000" stroke-width="0.35">2</text>
<text x="331.9" y="185.7" font-size="7.6" text-anchor="middle" stroke="#000" stroke-width="0.35">3</text>
<text x="383.5" y="200.0" font-size="7.6" text-anchor="middle" stroke="#000" stroke-width="0.35">4</text>
<text x="411.9" y="196.4" font-size="7.6" text-anchor="middle" stroke="#000" stroke-width="0.35">5</text>
<rect x="3.35" y="229.20" width="135.1" height="98.1" fill="none" stroke="#777" stroke-width="1.0"/>
<text transform="translate(8.05,242.70) scale(1.13,1)" font-size="7.35" stroke="#000" stroke-width="0.12">(c-1) TRMM 3B42V7</text>
<g shape-rendering="crispEdges"><rect x="59.10" y="250.90" width="15.35" height="5.15" fill="#ffa000"/><rect x="74.40" y="250.90" width="15.35" height="5.15" fill="#ffc800"/><rect x="89.70" y="250.90" width="5.15" height="5.15" fill="#ffff00"/><rect x="94.80" y="250.90" width="10.25" height="5.15" fill="#c3ff3c"/><rect x="64.20" y="256.00" width="5.15" height="5.15" fill="#ffff00"/><rect x="69.30" y="256.00" width="5.15" height="5.15" fill="#ffc800"/><rect x="74.40" y="256.00" width="5.15" height="5.15" fill="#ffff00"/><rect x="79.50" y="256.00" width="5.15" height="5.15" fill="#c3ff3c"/><rect x="84.60" y="256.00" width="20.45" height="5.15" fill="#92f280"/><rect x="59.10" y="261.10" width="15.35" height="5.15" fill="#ffff00"/><rect x="74.40" y="261.10" width="10.25" height="5.15" fill="#92f280"/><rect x="84.60" y="261.10" width="10.25" height="5.15" fill="#3cf0c8"/><rect x="94.80" y="261.10" width="10.25" height="5.15" fill="#92f280"/><rect x="105.00" y="261.10" width="5.15" height="5.15" fill="#3cf0c8"/><rect x="59.10" y="266.20" width="15.35" height="5.15" fill="#ffff00"/><rect x="74.40" y="266.20" width="5.15" height="5.15" fill="#92f280"/><rect x="79.50" y="266.20" width="10.25" height="5.15" fill="#3cf0c8"/><rect x="89.70" y="266.20" width="10.25" height="5.15" fill="#00eef8"/><rect x="99.90" y="266.20" width="20.45" height="5.15" fill="#3cf0c8"/><rect x="38.70" y="271.30" width="5.15" height="5.15" fill="#ffc800"/><rect x="59.10" y="271.30" width="5.15" height="5.15" fill="#c3ff3c"/><rect x="64.20" y="271.30" width="10.25" height="5.15" fill="#ffff00"/><rect x="74.40" y="271.30" width="10.25" height="5.15" fill="#92f280"/><rect x="84.60" y="271.30" width="15.35" height="5.15" fill="#00eef8"/><rect x="99.90" y="271.30" width="25.55" height="5.15" fill="#3cf0c8"/><rect x="33.60" y="276.40" width="10.25" height="5.15" fill="#ffc800"/><rect x="43.80" y="276.40" width="5.15" height="5.15" fill="#ffff00"/><rect x="54.00" y="276.40" width="10.25" height="5.15" fill="#c3ff3c"/><rect x="64.20" y="276.40" width="20.45" height="5.15" fill="#92f280"/><rect x="84.60" y="276.40" width="15.35" height="5.15" fill="#00eef8"/><rect x="99.90" y="276.40" width="15.35" height="5.15" fill="#3cf0c8"/><rect x="115.20" y="276.40" width="5.15" height="5.15" fill="#00eef8"/><rect x="120.30" y="276.40" width="5.15" height="5.15" fill="#3cf0c8"/><rect x="33.60" y="281.50" width="10.25" height="5.15" fill="#ffc800"/><rect x="43.80" y="281.50" width="10.25" height="5.15" fill="#ffff00"/><rect x="54.00" y="281.50" width="10.25" height="5.15" fill="#92f280"/><rect x="64.20" y="281.50" width="10.25" height="5.15" fill="#3cf0c8"/><rect x="74.40" y="281.50" width="5.15" height="5.15" fill="#92f280"/><rect x="79.50" y="281.50" width="5.15" height="5.15" fill="#3cf0c8"/><rect x="84.60" y="281.50" width="10.25" height="5.15" fill="#00eef8"/><rect x="94.80" y="281.50" width="5.15" height="5.15" fill="#3cf0c8"/><rect x="99.90" y="281.50" width="5.15" height="5.15" fill="#92f280"/><rect x="105.00" y="281.50" width="10.25" height="5.15" fill="#3cf0c8"/><rect x="115.20" y="281.50" width="5.15" height="5.15" fill="#00eef8"/><rect x="120.30" y="281.50" width="10.25" height="5.15" fill="#92f280"/><rect x="13.20" y="286.60" width="10.25" height="5.15" fill="#ffff00"/><rect x="28.50" y="286.60" width="15.35" height="5.15" fill="#ffc800"/><rect x="43.80" y="286.60" width="10.25" height="5.15" fill="#ffff00"/><rect x="54.00" y="286.60" width="15.35" height="5.15" fill="#3cf0c8"/><rect x="69.30" y="286.60" width="20.45" height="5.15" fill="#00eef8"/><rect x="89.70" y="286.60" width="10.25" height="5.15" fill="#3cf0c8"/><rect x="99.90" y="286.60" width="5.15" height="5.15" fill="#c3ff3c"/><rect x="105.00" y="286.60" width="5.15" height="5.15" fill="#92f280"/><rect x="110.10" y="286.60" width="10.25" height="5.15" fill="#3cf0c8"/><rect x="120.30" y="286.60" width="10.25" height="5.15" fill="#92f280"/><rect x="8.10" y="291.70" width="20.45" height="5.15" fill="#ffff00"/><rect x="28.50" y="291.70" width="15.35" height="5.15" fill="#ffc800"/><rect x="43.80" y="291.70" width="5.15" height="5.15" fill="#ffff00"/><rect x="48.90" y="291.70" width="5.15" height="5.15" fill="#c3ff3c"/><rect x="54.00" y="291.70" width="10.25" height="5.15" fill="#3cf0c8"/><rect x="64.20" y="291.70" width="25.55" height="5.15" fill="#00eef8"/><rect x="89.70" y="291.70" width="5.15" height="5.15" fill="#3cf0c8"/><rect x="94.80" y="291.70" width="5.15" height="5.15" fill="#92f280"/><rect x="99.90" y="291.70" width="5.15" height="5.15" fill="#c3ff3c"/><rect x="105.00" y="291.70" width="10.25" height="5.15" fill="#92f280"/><rect x="115.20" y="291.70" width="5.15" height="5.15" fill="#3cf0c8"/><rect x="120.30" y="291.70" width="10.25" height="5.15" fill="#92f280"/><rect x="8.10" y="296.80" width="5.15" height="5.15" fill="#92f280"/><rect x="13.20" y="296.80" width="5.15" height="5.15" fill="#3cf0c8"/><rect x="18.30" y="296.80" width="5.15" height="5.15" fill="#92f280"/><rect x="23.40" y="296.80" width="5.15" height="5.15" fill="#ffff00"/><rect x="28.50" y="296.80" width="5.15" height="5.15" fill="#ffc800"/><rect x="33.60" y="296.80" width="15.35" height="5.15" fill="#ffff00"/><rect x="48.90" y="296.80" width="5.15" height="5.15" fill="#c3ff3c"/><rect x="54.00" y="296.80" width="5.15" height="5.15" fill="#00eef8"/><rect x="59.10" y="296.80" width="5.15" height="5.15" fill="#3cf0c8"/><rect x="64.20" y="296.80" width="25.55" height="5.15" fill="#00eef8"/><rect x="89.70" y="296.80" width="5.15" height="5.15" fill="#3cf0c8"/><rect x="94.80" y="296.80" width="10.25" height="5.15" fill="#c3ff3c"/><rect x="105.00" y="296.80" width="10.25" height="5.15" fill="#92f280"/><rect x="115.20" y="296.80" width="10.25" height="5.15" fill="#c3ff3c"/><rect x="125.40" y="296.80" width="10.25" height="5.15" fill="#92f280"/><rect x="13.20" y="301.90" width="5.15" height="5.15" fill="#3cf0c8"/><rect x="18.30" y="301.90" width="5.15" height="5.15" fill="#92f280"/><rect x="23.40" y="301.90" width="25.55" height="5.15" fill="#ffff00"/><rect x="48.90" y="301.90" width="5.15" height="5.15" fill="#92f280"/><rect x="54.00" y="301.90" width="10.25" height="5.15" fill="#3cf0c8"/><rect x="64.20" y="301.90" width="5.15" height="5.15" fill="#00beff"/><rect x="69.30" y="301.90" width="25.55" height="5.15" fill="#00eef8"/><rect x="94.80" y="301.90" width="5.15" height="5.15" fill="#3cf0c8"/><rect x="99.90" y="301.90" width="5.15" height="5.15" fill="#c3ff3c"/><rect x="105.00" y="301.90" width="5.15" height="5.15" fill="#92f280"/><rect x="110.10" y="301.90" width="5.15" height="5.15" fill="#3cf0c8"/><rect x="115.20" y="301.90" width="15.35" height="5.15" fill="#c3ff3c"/><rect x="130.50" y="301.90" width="5.15" height="5.15" fill="#92f280"/><rect x="13.20" y="307.00" width="10.25" height="5.15" fill="#92f280"/><rect x="43.80" y="307.00" width="5.15" height="5.15" fill="#92f280"/><rect x="59.10" y="307.00" width="10.25" height="5.15" fill="#00beff"/><rect x="69.30" y="307.00" width="30.65" height="5.15" fill="#00eef8"/><rect x="99.90" y="307.00" width="15.35" height="5.15" fill="#3cf0c8"/><rect x="115.20" y="307.00" width="5.15" height="5.15" fill="#92f280"/><rect x="120.30" y="307.00" width="10.25" height="5.15" fill="#3cf0c8"/><rect x="79.50" y="312.10" width="20.45" height="5.15" fill="#00beff"/><rect x="99.90" y="312.10" width="25.55" height="5.15" fill="#00eef8"/><rect x="84.60" y="317.20" width="5.15" height="5.15" fill="#0091ff"/><rect x="89.70" y="317.20" width="15.35" height="5.15" fill="#1e46ff"/><rect x="105.00" y="317.20" width="5.15" height="5.15" fill="#0091ff"/><rect x="115.20" y="317.20" width="5.15" height="5.15" fill="#0091ff"/></g>
<path d="M10.0,291.7 L11.3,291.7 L12.2,291.4 L12.9,290.7 L13.2,289.8 L13.2,288.5 L13.8,287.6 L15.1,286.9 L17.0,286.6 L19.6,286.6 L21.5,286.9 L22.8,287.6 L23.4,288.5 L23.4,289.8 L23.7,290.7 L24.4,291.4 L25.3,291.7 L26.6,291.7 L27.5,291.4 L28.2,290.7 L28.5,289.8 L28.5,288.5 L28.8,287.6 L29.5,286.9 L30.4,286.6 L31.7,286.6 L32.6,286.0 L33.3,284.7 L33.6,282.8 L33.6,280.2 L33.9,278.3 L34.6,277.0 L35.5,276.4 L36.8,276.4 L37.7,276.1 L38.4,275.4 L38.7,274.5 L38.7,273.2 L39.0,272.3 L39.7,271.6 L40.6,271.3 L41.9,271.3 L42.8,271.6 L43.5,272.3 L43.8,273.2 L43.8,274.5 L44.1,275.4 L44.8,276.1 L45.7,276.4 L47.0,276.4 L47.9,276.7 L48.6,277.4 L48.9,278.3 L48.9,279.6 L49.2,280.5 L49.9,281.2 L50.8,281.5 L52.1,281.5 L53.0,281.2 L53.7,280.5 L54.0,279.6 L54.0,278.3 L54.3,277.4 L55.0,276.7 L55.9,276.4 L57.2,276.4 L58.1,275.4 L58.8,273.5 L59.1,270.7 L59.1,266.8 L59.4,264.0 L60.1,262.1 L61.0,261.1 L62.3,261.1 L63.2,260.8 L63.9,260.1 L64.2,259.2 L64.2,257.9 L63.9,257.0 L63.2,256.3 L62.3,256.0 L61.0,256.0 L60.1,255.7 L59.4,255.0 L59.1,254.1 L59.1,252.8 L62.0,251.9 L67.7,251.2 L76.3,250.9 L87.8,250.9 L96.4,251.5 L102.1,252.8 L105.0,254.7 L105.0,257.3 L105.3,259.2 L106.0,260.5 L106.9,261.1 L108.2,261.1 L109.1,261.4 L109.8,262.1 L110.1,263.0 L110.1,264.3 L110.7,265.2 L112.0,265.9 L113.9,266.2 L116.5,266.2 L118.4,266.5 L119.7,267.2 L120.3,268.1 L120.3,269.4 L120.6,270.3 L121.3,271.0 L122.2,271.3 L123.5,271.3 L124.4,271.9 L125.1,273.2 L125.4,275.1 L125.4,277.7 L125.7,279.6 L126.4,280.9 L127.3,281.5 L128.6,281.5 L129.5,282.5 L130.2,284.4 L130.5,287.2 L130.5,291.1 L130.8,293.9 L131.5,295.8 L132.4,296.8 L133.7,296.8 L134.6,297.4 L135.3,298.7 L135.6,300.6 L135.6,303.2 L135.3,305.1 L134.6,306.4 L133.7,307.0 L132.4,307.0 L131.5,307.3 L130.8,308.0 L130.5,308.9 L130.5,310.2 L130.2,311.1 L129.5,311.8 L128.6,312.1 L127.3,312.1 L126.4,312.4 L125.7,313.1 L125.4,314.0 L125.4,315.3 L125.1,316.2 L124.4,316.9 L123.5,317.2 L122.2,317.2 L121.3,317.5 L120.6,318.2 L120.3,319.1 L120.3,320.4 L120.0,321.3 L119.3,322.0 L118.4,322.3 L117.1,322.3 L116.2,322.0 L115.5,321.3 L115.2,320.4 L115.2,319.1 L114.9,318.2 L114.2,317.5 L113.3,317.2 L112.0,317.2 L111.1,317.5 L110.4,318.2 L110.1,319.1 L110.1,320.4 L108.5,321.3 L105.3,322.0 L100.5,322.3 L94.2,322.3 L89.4,322.0 L86.2,321.3 L84.6,320.4 L84.6,319.1 L84.3,318.2 L83.6,317.5 L82.7,317.2 L81.4,317.2 L80.5,316.9 L79.8,316.2 L79.5,315.3 L79.5,314.0 L78.2,313.1 L75.7,312.4 L71.8,312.1 L66.7,312.1 L62.9,311.8 L60.4,311.1 L59.1,310.2 L59.1,308.9 L58.5,308.0 L57.2,307.3 L55.3,307.0 L52.7,307.0 L50.8,307.3 L49.5,308.0 L48.9,308.9 L48.9,310.2 L48.6,311.1 L47.9,311.8 L47.0,312.1 L45.7,312.1 L44.8,311.8 L44.1,311.1 L43.8,310.2 L43.8,308.9 L42.5,308.0 L40.0,307.3 L36.1,307.0 L31.0,307.0 L27.2,307.3 L24.7,308.0 L23.4,308.9 L23.4,310.2 L22.8,311.1 L21.5,311.8 L19.6,312.1 L17.0,312.1 L15.1,311.5 L13.8,310.2 L13.2,308.3 L13.2,305.7 L12.9,303.8 L12.2,302.5 L11.3,301.9 L10.0,301.9 L9.1,301.3 L8.4,300.0 L8.1,298.1 L8.1,295.5 L8.4,293.6 L9.1,292.3Z" fill="none" stroke="#9a9a9a" stroke-width="0.5" stroke-dasharray="1.6,1.2"/>
<path d="M80.0,252.1 L81.8,255.7 L84.5,259.3 L88.2,261.6 L91.8,264.8 L94.5,269.3 L97.3,273.9 L99.2,278.6 L102.5,283.0 L105.7,288.4 L106.8,289.4" fill="none" stroke="#505050" stroke-width="0.5" stroke-dasharray="2,1" opacity="0.75"/>
<path d="M106.8,289.4 L110.7,291.0 L115.0,294.3 L119.4,295.3 L123.7,294.8 L128.1,292.1 L131.4,288.8" fill="none" stroke="#505050" stroke-width="0.5" stroke-dasharray="2,1" opacity="0.75"/>
<path d="M106.8,289.4 L103.1,293.2 L100.8,297.5 L99.8,300.8" fill="none" stroke="#505050" stroke-width="0.5" stroke-dasharray="2,1" opacity="0.75"/>
<path d="M99.8,300.8 L94.3,300.8 L88.9,299.7 L83.4,300.8 L77.2,301.3 L70.7,298.0 L65.2,295.8 L59.8,294.7 L56.6,292.4" fill="none" stroke="#505050" stroke-width="0.5" stroke-dasharray="2,1" opacity="0.75"/>
<path d="M99.8,300.8 L103.1,304.1 L107.4,306.8 L109.5,307.9 L105.2,310.6 L102.0,313.9 L100.8,317.2 L100.6,320.4" fill="none" stroke="#505050" stroke-width="0.5" stroke-dasharray="2,1" opacity="0.75"/>
<path d="M54.0,276.7 L56.0,286.3 L58.4,294.7 L62.0,300.7 L68.0,306.7 L72.8,310.3" fill="none" stroke="#505050" stroke-width="0.5" stroke-dasharray="2,1" opacity="0.75"/>
<text x="115.0" y="278.2" font-size="7.6" text-anchor="middle" stroke="#000" stroke-width="0.35">1</text>
<text x="79.4" y="281.5" font-size="7.6" text-anchor="middle" stroke="#000" stroke-width="0.35">2</text>
<text x="37.9" y="298.5" font-size="7.6" text-anchor="middle" stroke="#000" stroke-width="0.35">3</text>
<text x="89.5" y="312.9" font-size="7.6" text-anchor="middle" stroke="#000" stroke-width="0.35">4</text>
<text x="117.9" y="309.3" font-size="7.6" text-anchor="middle" stroke="#000" stroke-width="0.35">5</text>
<rect x="150.35" y="229.20" width="135.1" height="98.1" fill="none" stroke="#777" stroke-width="1.0"/>
<text transform="translate(155.05,242.70) scale(1.13,1)" font-size="7.35" stroke="#000" stroke-width="0.12">(c-2) PERSIANN CDR</text>
<g shape-rendering="crispEdges"><rect x="206.10" y="250.90" width="5.15" height="5.15" fill="#ff1e00"/><rect x="211.20" y="250.90" width="10.25" height="5.15" fill="#ff5a00"/><rect x="221.40" y="250.90" width="10.25" height="5.15" fill="#ff8200"/><rect x="231.60" y="250.90" width="20.45" height="5.15" fill="#ffa000"/><rect x="211.20" y="256.00" width="10.25" height="5.15" fill="#ff8200"/><rect x="221.40" y="256.00" width="20.45" height="5.15" fill="#ffa000"/><rect x="241.80" y="256.00" width="5.15" height="5.15" fill="#ffc800"/><rect x="246.90" y="256.00" width="5.15" height="5.15" fill="#ffa000"/><rect x="206.10" y="261.10" width="5.15" height="5.15" fill="#ff5a00"/><rect x="211.20" y="261.10" width="10.25" height="5.15" fill="#ffa000"/><rect x="221.40" y="261.10" width="30.65" height="5.15" fill="#ffc800"/><rect x="252.00" y="261.10" width="5.15" height="5.15" fill="#ffff00"/><rect x="206.10" y="266.20" width="5.15" height="5.15" fill="#ff8200"/><rect x="211.20" y="266.20" width="10.25" height="5.15" fill="#ffa000"/><rect x="221.40" y="266.20" width="20.45" height="5.15" fill="#ffc800"/><rect x="241.80" y="266.20" width="25.55" height="5.15" fill="#ffff00"/><rect x="185.70" y="271.30" width="5.15" height="5.15" fill="#ff1e00"/><rect x="206.10" y="271.30" width="5.15" height="5.15" fill="#ff8200"/><rect x="211.20" y="271.30" width="15.35" height="5.15" fill="#ffa000"/><rect x="226.50" y="271.30" width="15.35" height="5.15" fill="#ffc800"/><rect x="241.80" y="271.30" width="20.45" height="5.15" fill="#ffff00"/><rect x="262.20" y="271.30" width="10.25" height="5.15" fill="#c3ff3c"/><rect x="180.60" y="276.40" width="10.25" height="5.15" fill="#ff1e00"/><rect x="190.80" y="276.40" width="5.15" height="5.15" fill="#ff5a00"/><rect x="201.00" y="276.40" width="10.25" height="5.15" fill="#ffa000"/><rect x="211.20" y="276.40" width="25.55" height="5.15" fill="#ffc800"/><rect x="236.70" y="276.40" width="20.45" height="5.15" fill="#ffff00"/><rect x="257.10" y="276.40" width="10.25" height="5.15" fill="#c3ff3c"/><rect x="267.30" y="276.40" width="5.15" height="5.15" fill="#92f280"/><rect x="180.60" y="281.50" width="5.15" height="5.15" fill="#ff1e00"/><rect x="185.70" y="281.50" width="10.25" height="5.15" fill="#ff5a00"/><rect x="195.90" y="281.50" width="5.15" height="5.15" fill="#ff8200"/><rect x="201.00" y="281.50" width="10.25" height="5.15" fill="#ffa000"/><rect x="211.20" y="281.50" width="10.25" height="5.15" fill="#ffff00"/><rect x="221.40" y="281.50" width="5.15" height="5.15" fill="#ffc800"/><rect x="226.50" y="281.50" width="25.55" height="5.15" fill="#ffff00"/><rect x="252.00" y="281.50" width="15.35" height="5.15" fill="#c3ff3c"/><rect x="267.30" y="281.50" width="10.25" height="5.15" fill="#92f280"/><rect x="160.20" y="286.60" width="10.25" height="5.15" fill="#ff5a00"/><rect x="175.50" y="286.60" width="15.35" height="5.15" fill="#ff5a00"/><rect x="190.80" y="286.60" width="10.25" height="5.15" fill="#ff8200"/><rect x="201.00" y="286.60" width="5.15" height="5.15" fill="#ffa000"/><rect x="206.10" y="286.60" width="45.95" height="5.15" fill="#ffff00"/><rect x="252.00" y="286.60" width="10.25" height="5.15" fill="#c3ff3c"/><rect x="262.20" y="286.60" width="10.25" height="5.15" fill="#92f280"/><rect x="272.40" y="286.60" width="5.15" height="5.15" fill="#c3ff3c"/><rect x="155.10" y="291.70" width="20.45" height="5.15" fill="#ff8200"/><rect x="175.50" y="291.70" width="15.35" height="5.15" fill="#ff5a00"/><rect x="190.80" y="291.70" width="10.25" height="5.15" fill="#ff8200"/><rect x="201.00" y="291.70" width="5.15" height="5.15" fill="#ffc800"/><rect x="206.10" y="291.70" width="20.45" height="5.15" fill="#c3ff3c"/><rect x="226.50" y="291.70" width="5.15" height="5.15" fill="#92f280"/><rect x="231.60" y="291.70" width="10.25" height="5.15" fill="#c3ff3c"/><rect x="241.80" y="291.70" width="15.35" height="5.15" fill="#ffff00"/><rect x="257.10" y="291.70" width="20.45" height="5.15" fill="#c3ff3c"/><rect x="155.10" y="296.80" width="5.15" height="5.15" fill="#ffff00"/><rect x="160.20" y="296.80" width="5.15" height="5.15" fill="#ffc800"/><rect x="165.30" y="296.80" width="5.15" height="5.15" fill="#ffa000"/><rect x="170.40" y="296.80" width="25.55" height="5.15" fill="#ff8200"/><rect x="195.90" y="296.80" width="5.15" height="5.15" fill="#ffa000"/><rect x="201.00" y="296.80" width="5.15" height="5.15" fill="#c3ff3c"/><rect x="206.10" y="296.80" width="5.15" height="5.15" fill="#92f280"/><rect x="211.20" y="296.80" width="30.65" height="5.15" fill="#c3ff3c"/><rect x="241.80" y="296.80" width="30.65" height="5.15" fill="#ffff00"/><rect x="272.40" y="296.80" width="5.15" height="5.15" fill="#c3ff3c"/><rect x="277.50" y="296.80" width="5.15" height="5.15" fill="#ffff00"/><rect x="160.20" y="301.90" width="10.25" height="5.15" fill="#ffff00"/><rect x="170.40" y="301.90" width="25.55" height="5.15" fill="#ffa000"/><rect x="195.90" y="301.90" width="5.15" height="5.15" fill="#ffc800"/><rect x="201.00" y="301.90" width="5.15" height="5.15" fill="#c3ff3c"/><rect x="206.10" y="301.90" width="5.15" height="5.15" fill="#92f280"/><rect x="211.20" y="301.90" width="5.15" height="5.15" fill="#3cf0c8"/><rect x="216.30" y="301.90" width="10.25" height="5.15" fill="#92f280"/><rect x="226.50" y="301.90" width="10.25" height="5.15" fill="#c3ff3c"/><rect x="236.70" y="301.90" width="10.25" height="5.15" fill="#ffff00"/><rect x="246.90" y="301.90" width="5.15" height="5.15" fill="#c3ff3c"/><rect x="252.00" y="301.90" width="30.65" height="5.15" fill="#ffff00"/><rect x="160.20" y="307.00" width="10.25" height="5.15" fill="#ffff00"/><rect x="190.80" y="307.00" width="5.15" height="5.15" fill="#ffff00"/><rect x="206.10" y="307.00" width="5.15" height="5.15" fill="#92f280"/><rect x="211.20" y="307.00" width="5.15" height="5.15" fill="#3cf0c8"/><rect x="216.30" y="307.00" width="5.15" height="5.15" fill="#92f280"/><rect x="221.40" y="307.00" width="5.15" height="5.15" fill="#c3ff3c"/><rect x="226.50" y="307.00" width="40.85" height="5.15" fill="#ffff00"/><rect x="267.30" y="307.00" width="10.25" height="5.15" fill="#c3ff3c"/><rect x="226.50" y="312.10" width="15.35" height="5.15" fill="#92f280"/><rect x="241.80" y="312.10" width="30.65" height="5.15" fill="#c3ff3c"/><rect x="231.60" y="317.20" width="5.15" height="5.15" fill="#3cf0c8"/><rect x="236.70" y="317.20" width="5.15" height="5.15" fill="#00eef8"/><rect x="241.80" y="317.20" width="10.25" height="5.15" fill="#00beff"/><rect x="252.00" y="317.20" width="5.15" height="5.15" fill="#00eef8"/><rect x="262.20" y="317.20" width="5.15" height="5.15" fill="#00eef8"/></g>
<path d="M157.0,291.7 L158.3,291.7 L159.2,291.4 L159.9,290.7 L160.2,289.8 L160.2,288.5 L160.8,287.6 L162.1,286.9 L164.0,286.6 L166.6,286.6 L168.5,286.9 L169.8,287.6 L170.4,288.5 L170.4,289.8 L170.7,290.7 L171.4,291.4 L172.3,291.7 L173.6,291.7 L174.5,291.4 L175.2,290.7 L175.5,289.8 L175.5,288.5 L175.8,287.6 L176.5,286.9 L177.4,286.6 L178.7,286.6 L179.6,286.0 L180.3,284.7 L180.6,282.8 L180.6,280.2 L180.9,278.3 L181.6,277.0 L182.5,276.4 L183.8,276.4 L184.7,276.1 L185.4,275.4 L185.7,274.5 L185.7,273.2 L186.0,272.3 L186.7,271.6 L187.6,271.3 L188.9,271.3 L189.8,271.6 L190.5,272.3 L190.8,273.2 L190.8,274.5 L191.1,275.4 L191.8,276.1 L192.7,276.4 L194.0,276.4 L194.9,276.7 L195.6,277.4 L195.9,278.3 L195.9,279.6 L196.2,280.5 L196.9,281.2 L197.8,281.5 L199.1,281.5 L200.0,281.2 L200.7,280.5 L201.0,279.6 L201.0,278.3 L201.3,277.4 L202.0,276.7 L202.9,276.4 L204.2,276.4 L205.1,275.4 L205.8,273.5 L206.1,270.7 L206.1,266.8 L206.4,264.0 L207.1,262.1 L208.0,261.1 L209.3,261.1 L210.2,260.8 L210.9,260.1 L211.2,259.2 L211.2,257.9 L210.9,257.0 L210.2,256.3 L209.3,256.0 L208.0,256.0 L207.1,255.7 L206.4,255.0 L206.1,254.1 L206.1,252.8 L209.0,251.9 L214.7,251.2 L223.3,250.9 L234.8,250.9 L243.4,251.5 L249.1,252.8 L252.0,254.7 L252.0,257.3 L252.3,259.2 L253.0,260.5 L253.9,261.1 L255.2,261.1 L256.1,261.4 L256.8,262.1 L257.1,263.0 L257.1,264.3 L257.7,265.2 L259.0,265.9 L260.9,266.2 L263.5,266.2 L265.4,266.5 L266.7,267.2 L267.3,268.1 L267.3,269.4 L267.6,270.3 L268.3,271.0 L269.2,271.3 L270.5,271.3 L271.4,271.9 L272.1,273.2 L272.4,275.1 L272.4,277.7 L272.7,279.6 L273.4,280.9 L274.3,281.5 L275.6,281.5 L276.5,282.5 L277.2,284.4 L277.5,287.2 L277.5,291.1 L277.8,293.9 L278.5,295.8 L279.4,296.8 L280.7,296.8 L281.6,297.4 L282.3,298.7 L282.6,300.6 L282.6,303.2 L282.3,305.1 L281.6,306.4 L280.7,307.0 L279.4,307.0 L278.5,307.3 L277.8,308.0 L277.5,308.9 L277.5,310.2 L277.2,311.1 L276.5,311.8 L275.6,312.1 L274.3,312.1 L273.4,312.4 L272.7,313.1 L272.4,314.0 L272.4,315.3 L272.1,316.2 L271.4,316.9 L270.5,317.2 L269.2,317.2 L268.3,317.5 L267.6,318.2 L267.3,319.1 L267.3,320.4 L267.0,321.3 L266.3,322.0 L265.4,322.3 L264.1,322.3 L263.2,322.0 L262.5,321.3 L262.2,320.4 L262.2,319.1 L261.9,318.2 L261.2,317.5 L260.3,317.2 L259.0,317.2 L258.1,317.5 L257.4,318.2 L257.1,319.1 L257.1,320.4 L255.5,321.3 L252.3,322.0 L247.5,322.3 L241.2,322.3 L236.4,322.0 L233.2,321.3 L231.6,320.4 L231.6,319.1 L231.3,318.2 L230.6,317.5 L229.7,317.2 L228.4,317.2 L227.5,316.9 L226.8,316.2 L226.5,315.3 L226.5,314.0 L225.2,313.1 L222.7,312.4 L218.8,312.1 L213.8,312.1 L209.9,311.8 L207.4,311.1 L206.1,310.2 L206.1,308.9 L205.5,308.0 L204.2,307.3 L202.3,307.0 L199.7,307.0 L197.8,307.3 L196.5,308.0 L195.9,308.9 L195.9,310.2 L195.6,311.1 L194.9,311.8 L194.0,312.1 L192.7,312.1 L191.8,311.8 L191.1,311.1 L190.8,310.2 L190.8,308.9 L189.5,308.0 L187.0,307.3 L183.1,307.0 L178.0,307.0 L174.2,307.3 L171.7,308.0 L170.4,308.9 L170.4,310.2 L169.8,311.1 L168.5,311.8 L166.6,312.1 L164.0,312.1 L162.1,311.5 L160.8,310.2 L160.2,308.3 L160.2,305.7 L159.9,303.8 L159.2,302.5 L158.3,301.9 L157.0,301.9 L156.1,301.3 L155.4,300.0 L155.1,298.1 L155.1,295.5 L155.4,293.6 L156.1,292.3Z" fill="none" stroke="#9a9a9a" stroke-width="0.5" stroke-dasharray="1.6,1.2"/>
<path d="M227.0,252.1 L228.8,255.7 L231.5,259.3 L235.2,261.6 L238.8,264.8 L241.5,269.3 L244.3,273.9 L246.2,278.6 L249.5,283.0 L252.7,288.4 L253.8,289.4" fill="none" stroke="#505050" stroke-width="0.5" stroke-dasharray="2,1" opacity="0.75"/>
<path d="M253.8,289.4 L257.7,291.0 L262.0,294.3 L266.4,295.3 L270.7,294.8 L275.1,292.1 L278.4,288.8" fill="none" stroke="#505050" stroke-width="0.5" stroke-dasharray="2,1" opacity="0.75"/>
<path d="M253.8,289.4 L250.1,293.2 L247.8,297.5 L246.8,300.8" fill="none" stroke="#505050" stroke-width="0.5" stroke-dasharray="2,1" opacity="0.75"/>
<path d="M246.8,300.8 L241.3,300.8 L235.9,299.7 L230.4,300.8 L224.2,301.3 L217.7,298.0 L212.2,295.8 L206.8,294.7 L203.6,292.4" fill="none" stroke="#505050" stroke-width="0.5" stroke-dasharray="2,1" opacity="0.75"/>
<path d="M246.8,300.8 L250.1,304.1 L254.4,306.8 L256.5,307.9 L252.2,310.6 L249.0,313.9 L247.8,317.2 L247.6,320.4" fill="none" stroke="#505050" stroke-width="0.5" stroke-dasharray="2,1" opacity="0.75"/>
<path d="M201.0,276.7 L203.0,286.3 L205.4,294.7 L209.0,300.7 L215.0,306.7 L219.8,310.3" fill="none" stroke="#505050" stroke-width="0.5" stroke-dasharray="2,1" opacity="0.75"/>
<text x="262.0" y="278.2" font-size="7.6" text-anchor="middle" stroke="#000" stroke-width="0.35">1</text>
<text x="226.4" y="281.5" font-size="7.6" text-anchor="middle" stroke="#000" stroke-width="0.35">2</text>
<text x="184.9" y="298.5" font-size="7.6" text-anchor="middle" stroke="#000" stroke-width="0.35">3</text>
<text x="236.5" y="312.9" font-size="7.6" text-anchor="middle" stroke="#000" stroke-width="0.35">4</text>
<text x="264.9" y="309.3" font-size="7.6" text-anchor="middle" stroke="#000" stroke-width="0.35">5</text>
<rect x="297.35" y="229.20" width="135.1" height="98.1" fill="none" stroke="#777" stroke-width="1.0"/>
<text transform="translate(302.05,242.70) scale(1.13,1)" font-size="7.35" stroke="#000" stroke-width="0.12">(c-3) CMORPH CRT</text>
<g shape-rendering="crispEdges"><rect x="353.10" y="250.90" width="5.15" height="5.15" fill="#ff5a00"/><rect x="358.20" y="250.90" width="5.15" height="5.15" fill="#ffa000"/><rect x="363.30" y="250.90" width="15.35" height="5.15" fill="#ffc800"/><rect x="378.60" y="250.90" width="15.35" height="5.15" fill="#ffff00"/><rect x="393.90" y="250.90" width="5.15" height="5.15" fill="#c3ff3c"/><rect x="358.20" y="256.00" width="5.15" height="5.15" fill="#ffa000"/><rect x="363.30" y="256.00" width="10.25" height="5.15" fill="#ffc800"/><rect x="373.50" y="256.00" width="10.25" height="5.15" fill="#ffff00"/><rect x="383.70" y="256.00" width="10.25" height="5.15" fill="#c3ff3c"/><rect x="393.90" y="256.00" width="5.15" height="5.15" fill="#92f280"/><rect x="353.10" y="261.10" width="5.15" height="5.15" fill="#ffc800"/><rect x="358.20" y="261.10" width="5.15" height="5.15" fill="#ffff00"/><rect x="363.30" y="261.10" width="5.15" height="5.15" fill="#c3ff3c"/><rect x="368.40" y="261.10" width="5.15" height="5.15" fill="#ffff00"/><rect x="373.50" y="261.10" width="25.55" height="5.15" fill="#92f280"/><rect x="399.00" y="261.10" width="5.15" height="5.15" fill="#3cf0c8"/><rect x="353.10" y="266.20" width="5.15" height="5.15" fill="#ffc800"/><rect x="358.20" y="266.20" width="5.15" height="5.15" fill="#ffff00"/><rect x="363.30" y="266.20" width="10.25" height="5.15" fill="#c3ff3c"/><rect x="373.50" y="266.20" width="20.45" height="5.15" fill="#92f280"/><rect x="393.90" y="266.20" width="20.45" height="5.15" fill="#3cf0c8"/><rect x="332.70" y="271.30" width="5.15" height="5.15" fill="#ffa000"/><rect x="353.10" y="271.30" width="5.15" height="5.15" fill="#ffc800"/><rect x="358.20" y="271.30" width="20.45" height="5.15" fill="#ffff00"/><rect x="378.60" y="271.30" width="10.25" height="5.15" fill="#c3ff3c"/><rect x="388.80" y="271.30" width="10.25" height="5.15" fill="#92f280"/><rect x="399.00" y="271.30" width="10.25" height="5.15" fill="#3cf0c8"/><rect x="409.20" y="271.30" width="5.15" height="5.15" fill="#00eef8"/><rect x="414.30" y="271.30" width="5.15" height="5.15" fill="#3cf0c8"/><rect x="327.60" y="276.40" width="10.25" height="5.15" fill="#ff5a00"/><rect x="337.80" y="276.40" width="5.15" height="5.15" fill="#ffa000"/><rect x="348.00" y="276.40" width="5.15" height="5.15" fill="#ffff00"/><rect x="353.10" y="276.40" width="5.15" height="5.15" fill="#ffc800"/><rect x="358.20" y="276.40" width="10.25" height="5.15" fill="#c3ff3c"/><rect x="368.40" y="276.40" width="10.25" height="5.15" fill="#ffff00"/><rect x="378.60" y="276.40" width="5.15" height="5.15" fill="#c3ff3c"/><rect x="383.70" y="276.40" width="15.35" height="5.15" fill="#92f280"/><rect x="399.00" y="276.40" width="20.45" height="5.15" fill="#3cf0c8"/><rect x="327.60" y="281.50" width="10.25" height="5.15" fill="#ff5a00"/><rect x="337.80" y="281.50" width="10.25" height="5.15" fill="#ffa000"/><rect x="348.00" y="281.50" width="5.15" height="5.15" fill="#ffff00"/><rect x="353.10" y="281.50" width="5.15" height="5.15" fill="#ffc800"/><rect x="358.20" y="281.50" width="25.55" height="5.15" fill="#c3ff3c"/><rect x="383.70" y="281.50" width="25.55" height="5.15" fill="#92f280"/><rect x="409.20" y="281.50" width="15.35" height="5.15" fill="#3cf0c8"/><rect x="307.20" y="286.60" width="10.25" height="5.15" fill="#ffa000"/><rect x="322.50" y="286.60" width="5.15" height="5.15" fill="#ffa000"/><rect x="327.60" y="286.60" width="10.25" height="5.15" fill="#ff5a00"/><rect x="337.80" y="286.60" width="10.25" height="5.15" fill="#ffc800"/><rect x="348.00" y="286.60" width="10.25" height="5.15" fill="#c3ff3c"/><rect x="358.20" y="286.60" width="30.65" height="5.15" fill="#92f280"/><rect x="388.80" y="286.60" width="5.15" height="5.15" fill="#ffff00"/><rect x="393.90" y="286.60" width="10.25" height="5.15" fill="#c3ff3c"/><rect x="404.10" y="286.60" width="5.15" height="5.15" fill="#92f280"/><rect x="409.20" y="286.60" width="10.25" height="5.15" fill="#3cf0c8"/><rect x="419.40" y="286.60" width="5.15" height="5.15" fill="#92f280"/><rect x="302.10" y="291.70" width="5.15" height="5.15" fill="#ffff00"/><rect x="307.20" y="291.70" width="10.25" height="5.15" fill="#ffc800"/><rect x="317.40" y="291.70" width="10.25" height="5.15" fill="#ffa000"/><rect x="327.60" y="291.70" width="10.25" height="5.15" fill="#ff5a00"/><rect x="337.80" y="291.70" width="5.15" height="5.15" fill="#ffa000"/><rect x="342.90" y="291.70" width="5.15" height="5.15" fill="#ffc800"/><rect x="348.00" y="291.70" width="5.15" height="5.15" fill="#92f280"/><rect x="353.10" y="291.70" width="5.15" height="5.15" fill="#3cf0c8"/><rect x="358.20" y="291.70" width="5.15" height="5.15" fill="#92f280"/><rect x="363.30" y="291.70" width="5.15" height="5.15" fill="#3cf0c8"/><rect x="368.40" y="291.70" width="15.35" height="5.15" fill="#92f280"/><rect x="383.70" y="291.70" width="5.15" height="5.15" fill="#3cf0c8"/><rect x="388.80" y="291.70" width="5.15" height="5.15" fill="#ffff00"/><rect x="393.90" y="291.70" width="10.25" height="5.15" fill="#c3ff3c"/><rect x="404.10" y="291.70" width="10.25" height="5.15" fill="#92f280"/><rect x="414.30" y="291.70" width="5.15" height="5.15" fill="#c3ff3c"/><rect x="419.40" y="291.70" width="5.15" height="5.15" fill="#92f280"/><rect x="302.10" y="296.80" width="5.15" height="5.15" fill="#ffff00"/><rect x="307.20" y="296.80" width="5.15" height="5.15" fill="#c3ff3c"/><rect x="312.30" y="296.80" width="5.15" height="5.15" fill="#ffff00"/><rect x="317.40" y="296.80" width="25.55" height="5.15" fill="#ffa000"/><rect x="342.90" y="296.80" width="5.15" height="5.15" fill="#ffc800"/><rect x="348.00" y="296.80" width="5.15" height="5.15" fill="#3cf0c8"/><rect x="353.10" y="296.80" width="5.15" height="5.15" fill="#92f280"/><rect x="358.20" y="296.80" width="5.15" height="5.15" fill="#3cf0c8"/><rect x="363.30" y="296.80" width="10.25" height="5.15" fill="#92f280"/><rect x="373.50" y="296.80" width="5.15" height="5.15" fill="#3cf0c8"/><rect x="378.60" y="296.80" width="5.15" height="5.15" fill="#92f280"/><rect x="383.70" y="296.80" width="5.15" height="5.15" fill="#3cf0c8"/><rect x="388.80" y="296.80" width="20.45" height="5.15" fill="#c3ff3c"/><rect x="409.20" y="296.80" width="5.15" height="5.15" fill="#92f280"/><rect x="414.30" y="296.80" width="5.15" height="5.15" fill="#c3ff3c"/><rect x="419.40" y="296.80" width="10.25" height="5.15" fill="#92f280"/><rect x="307.20" y="301.90" width="5.15" height="5.15" fill="#c3ff3c"/><rect x="312.30" y="301.90" width="5.15" height="5.15" fill="#ffff00"/><rect x="317.40" y="301.90" width="25.55" height="5.15" fill="#ffc800"/><rect x="342.90" y="301.90" width="5.15" height="5.15" fill="#c3ff3c"/><rect x="348.00" y="301.90" width="10.25" height="5.15" fill="#3cf0c8"/><rect x="358.20" y="301.90" width="5.15" height="5.15" fill="#00eef8"/><rect x="363.30" y="301.90" width="5.15" height="5.15" fill="#3cf0c8"/><rect x="368.40" y="301.90" width="20.45" height="5.15" fill="#92f280"/><rect x="388.80" y="301.90" width="35.75" height="5.15" fill="#c3ff3c"/><rect x="424.50" y="301.90" width="5.15" height="5.15" fill="#92f280"/><rect x="307.20" y="307.00" width="10.25" height="5.15" fill="#ffff00"/><rect x="337.80" y="307.00" width="5.15" height="5.15" fill="#ffff00"/><rect x="353.10" y="307.00" width="10.25" height="5.15" fill="#00eef8"/><rect x="363.30" y="307.00" width="5.15" height="5.15" fill="#3cf0c8"/><rect x="368.40" y="307.00" width="5.15" height="5.15" fill="#92f280"/><rect x="373.50" y="307.00" width="40.85" height="5.15" fill="#c3ff3c"/><rect x="414.30" y="307.00" width="5.15" height="5.15" fill="#92f280"/><rect x="419.40" y="307.00" width="5.15" height="5.15" fill="#3cf0c8"/><rect x="373.50" y="312.10" width="20.45" height="5.15" fill="#00eef8"/><rect x="393.90" y="312.10" width="15.35" height="5.15" fill="#3cf0c8"/><rect x="409.20" y="312.10" width="5.15" height="5.15" fill="#92f280"/><rect x="414.30" y="312.10" width="5.15" height="5.15" fill="#3cf0c8"/><rect x="378.60" y="317.20" width="5.15" height="5.15" fill="#00beff"/><rect x="383.70" y="317.20" width="10.25" height="5.15" fill="#0091ff"/><rect x="393.90" y="317.20" width="10.25" height="5.15" fill="#00beff"/><rect x="409.20" y="317.20" width="5.15" height="5.15" fill="#00eef8"/></g>
<path d="M304.0,291.7 L305.3,291.7 L306.2,291.4 L306.9,290.7 L307.2,289.8 L307.2,288.5 L307.8,287.6 L309.1,286.9 L311.0,286.6 L313.6,286.6 L315.5,286.9 L316.8,287.6 L317.4,288.5 L317.4,289.8 L317.7,290.7 L318.4,291.4 L319.3,291.7 L320.6,291.7 L321.5,291.4 L322.2,290.7 L322.5,289.8 L322.5,288.5 L322.8,287.6 L323.5,286.9 L324.4,286.6 L325.7,286.6 L326.6,286.0 L327.3,284.7 L327.6,282.8 L327.6,280.2 L327.9,278.3 L328.6,277.0 L329.5,276.4 L330.8,276.4 L331.7,276.1 L332.4,275.4 L332.7,274.5 L332.7,273.2 L333.0,272.3 L333.7,271.6 L334.6,271.3 L335.9,271.3 L336.8,271.6 L337.5,272.3 L337.8,273.2 L337.8,274.5 L338.1,275.4 L338.8,276.1 L339.7,276.4 L341.0,276.4 L341.9,276.7 L342.6,277.4 L342.9,278.3 L342.9,279.6 L343.2,280.5 L343.9,281.2 L344.8,281.5 L346.1,281.5 L347.0,281.2 L347.7,280.5 L348.0,279.6 L348.0,278.3 L348.3,277.4 L349.0,276.7 L349.9,276.4 L351.2,276.4 L352.1,275.4 L352.8,273.5 L353.1,270.7 L353.1,266.8 L353.4,264.0 L354.1,262.1 L355.0,261.1 L356.3,261.1 L357.2,260.8 L357.9,260.1 L358.2,259.2 L358.2,257.9 L357.9,257.0 L357.2,256.3 L356.3,256.0 L355.0,256.0 L354.1,255.7 L353.4,255.0 L353.1,254.1 L353.1,252.8 L356.0,251.9 L361.7,251.2 L370.3,250.9 L381.8,250.9 L390.4,251.5 L396.1,252.8 L399.0,254.7 L399.0,257.3 L399.3,259.2 L400.0,260.5 L400.9,261.1 L402.2,261.1 L403.1,261.4 L403.8,262.1 L404.1,263.0 L404.1,264.3 L404.7,265.2 L406.0,265.9 L407.9,266.2 L410.5,266.2 L412.4,266.5 L413.7,267.2 L414.3,268.1 L414.3,269.4 L414.6,270.3 L415.3,271.0 L416.2,271.3 L417.5,271.3 L418.4,271.9 L419.1,273.2 L419.4,275.1 L419.4,277.7 L419.7,279.6 L420.4,280.9 L421.3,281.5 L422.6,281.5 L423.5,282.5 L424.2,284.4 L424.5,287.2 L424.5,291.1 L424.8,293.9 L425.5,295.8 L426.4,296.8 L427.7,296.8 L428.6,297.4 L429.3,298.7 L429.6,300.6 L429.6,303.2 L429.3,305.1 L428.6,306.4 L427.7,307.0 L426.4,307.0 L425.5,307.3 L424.8,308.0 L424.5,308.9 L424.5,310.2 L424.2,311.1 L423.5,311.8 L422.6,312.1 L421.3,312.1 L420.4,312.4 L419.7,313.1 L419.4,314.0 L419.4,315.3 L419.1,316.2 L418.4,316.9 L417.5,317.2 L416.2,317.2 L415.3,317.5 L414.6,318.2 L414.3,319.1 L414.3,320.4 L414.0,321.3 L413.3,322.0 L412.4,322.3 L411.1,322.3 L410.2,322.0 L409.5,321.3 L409.2,320.4 L409.2,319.1 L408.9,318.2 L408.2,317.5 L407.3,317.2 L406.0,317.2 L405.1,317.5 L404.4,318.2 L404.1,319.1 L404.1,320.4 L402.5,321.3 L399.3,322.0 L394.5,322.3 L388.2,322.3 L383.4,322.0 L380.2,321.3 L378.6,320.4 L378.6,319.1 L378.3,318.2 L377.6,317.5 L376.7,317.2 L375.4,317.2 L374.5,316.9 L373.8,316.2 L373.5,315.3 L373.5,314.0 L372.2,313.1 L369.7,312.4 L365.9,312.1 L360.8,312.1 L356.9,311.8 L354.4,311.1 L353.1,310.2 L353.1,308.9 L352.5,308.0 L351.2,307.3 L349.3,307.0 L346.7,307.0 L344.8,307.3 L343.5,308.0 L342.9,308.9 L342.9,310.2 L342.6,311.1 L341.9,311.8 L341.0,312.1 L339.7,312.1 L338.8,311.8 L338.1,311.1 L337.8,310.2 L337.8,308.9 L336.5,308.0 L334.0,307.3 L330.2,307.0 L325.1,307.0 L321.2,307.3 L318.7,308.0 L317.4,308.9 L317.4,310.2 L316.8,311.1 L315.5,311.8 L313.6,312.1 L311.0,312.1 L309.1,311.5 L307.8,310.2 L307.2,308.3 L307.2,305.7 L306.9,303.8 L306.2,302.5 L305.3,301.9 L304.0,301.9 L303.1,301.3 L302.4,300.0 L302.1,298.1 L302.1,295.5 L302.4,293.6 L303.1,292.3Z" fill="none" stroke="#9a9a9a" stroke-width="0.5" stroke-dasharray="1.6,1.2"/>
<path d="M374.0,252.1 L375.8,255.7 L378.5,259.3 L382.2,261.6 L385.8,264.8 L388.5,269.3 L391.3,273.9 L393.2,278.6 L396.5,283.0 L399.7,288.4 L400.8,289.4" fill="none" stroke="#505050" stroke-width="0.5" stroke-dasharray="2,1" opacity="0.75"/>
<path d="M400.8,289.4 L404.7,291.0 L409.0,294.3 L413.4,295.3 L417.7,294.8 L422.1,292.1 L425.4,288.8" fill="none" stroke="#505050" stroke-width="0.5" stroke-dasharray="2,1" opacity="0.75"/>
<path d="M400.8,289.4 L397.1,293.2 L394.8,297.5 L393.8,300.8" fill="none" stroke="#505050" stroke-width="0.5" stroke-dasharray="2,1" opacity="0.75"/>
<path d="M393.8,300.8 L388.3,300.8 L382.9,299.7 L377.4,300.8 L371.2,301.3 L364.7,298.0 L359.2,295.8 L353.8,294.7 L350.6,292.4" fill="none" stroke="#505050" stroke-width="0.5" stroke-dasharray="2,1" opacity="0.75"/>
<path d="M393.8,300.8 L397.1,304.1 L401.4,306.8 L403.5,307.9 L399.2,310.6 L396.0,313.9 L394.8,317.2 L394.6,320.4" fill="none" stroke="#505050" stroke-width="0.5" stroke-dasharray="2,1" opacity="0.75"/>
<path d="M348.0,276.7 L350.0,286.3 L352.4,294.7 L356.0,300.7 L362.0,306.7 L366.8,310.3" fill="none" stroke="#505050" stroke-width="0.5" stroke-dasharray="2,1" opacity="0.75"/>
<text x="409.0" y="278.2" font-size="7.6" text-anchor="middle" stroke="#000" stroke-width="0.35">1</text>
<text x="373.4" y="281.5" font-size="7.6" text-anchor="middle" stroke="#000" stroke-width="0.35">2</text>
<text x="331.9" y="298.5" font-size="7.6" text-anchor="middle" stroke="#000" stroke-width="0.35">3</text>
<text x="383.5" y="312.9" font-size="7.6" text-anchor="middle" stroke="#000" stroke-width="0.35">4</text>
<text x="411.9" y="309.3" font-size="7.6" text-anchor="middle" stroke="#000" stroke-width="0.35">5</text>
<rect x="3.35" y="342.05" width="135.1" height="98.1" fill="none" stroke="#777" stroke-width="1.0"/>
<text transform="translate(8.05,355.55) scale(1.13,1)" font-size="7.35" stroke="#000" stroke-width="0.12">(d-1) TRMM 3B42V7</text>
<g shape-rendering="crispEdges"><rect x="59.10" y="363.75" width="10.25" height="5.15" fill="#00beff"/><rect x="69.30" y="363.75" width="20.45" height="5.15" fill="#00eef8"/><rect x="89.70" y="363.75" width="15.35" height="5.15" fill="#92f280"/><rect x="64.20" y="368.85" width="5.15" height="5.15" fill="#00beff"/><rect x="69.30" y="368.85" width="20.45" height="5.15" fill="#00eef8"/><rect x="89.70" y="368.85" width="5.15" height="5.15" fill="#92f280"/><rect x="94.80" y="368.85" width="5.15" height="5.15" fill="#3cf0c8"/><rect x="99.90" y="368.85" width="5.15" height="5.15" fill="#92f280"/><rect x="59.10" y="373.95" width="25.55" height="5.15" fill="#00eef8"/><rect x="84.60" y="373.95" width="5.15" height="5.15" fill="#3cf0c8"/><rect x="89.70" y="373.95" width="5.15" height="5.15" fill="#92f280"/><rect x="94.80" y="373.95" width="5.15" height="5.15" fill="#3cf0c8"/><rect x="99.90" y="373.95" width="5.15" height="5.15" fill="#92f280"/><rect x="105.00" y="373.95" width="5.15" height="5.15" fill="#ffff00"/><rect x="59.10" y="379.05" width="5.15" height="5.15" fill="#92f280"/><rect x="64.20" y="379.05" width="5.15" height="5.15" fill="#c3ff3c"/><rect x="69.30" y="379.05" width="15.35" height="5.15" fill="#92f280"/><rect x="84.60" y="379.05" width="5.15" height="5.15" fill="#00eef8"/><rect x="89.70" y="379.05" width="5.15" height="5.15" fill="#3cf0c8"/><rect x="94.80" y="379.05" width="5.15" height="5.15" fill="#c3ff3c"/><rect x="99.90" y="379.05" width="5.15" height="5.15" fill="#ffff00"/><rect x="105.00" y="379.05" width="5.15" height="5.15" fill="#ffc800"/><rect x="110.10" y="379.05" width="10.25" height="5.15" fill="#ffff00"/><rect x="38.70" y="384.15" width="5.15" height="5.15" fill="#3cf0c8"/><rect x="59.10" y="384.15" width="5.15" height="5.15" fill="#3cf0c8"/><rect x="64.20" y="384.15" width="10.25" height="5.15" fill="#92f280"/><rect x="74.40" y="384.15" width="5.15" height="5.15" fill="#c3ff3c"/><rect x="79.50" y="384.15" width="5.15" height="5.15" fill="#92f280"/><rect x="84.60" y="384.15" width="5.15" height="5.15" fill="#3cf0c8"/><rect x="89.70" y="384.15" width="5.15" height="5.15" fill="#92f280"/><rect x="94.80" y="384.15" width="10.25" height="5.15" fill="#ffff00"/><rect x="105.00" y="384.15" width="15.35" height="5.15" fill="#ffc800"/><rect x="120.30" y="384.15" width="5.15" height="5.15" fill="#ffff00"/><rect x="33.60" y="389.25" width="15.35" height="5.15" fill="#92f280"/><rect x="54.00" y="389.25" width="5.15" height="5.15" fill="#92f280"/><rect x="59.10" y="389.25" width="10.25" height="5.15" fill="#c3ff3c"/><rect x="69.30" y="389.25" width="15.35" height="5.15" fill="#ffff00"/><rect x="84.60" y="389.25" width="5.15" height="5.15" fill="#3cf0c8"/><rect x="89.70" y="389.25" width="15.35" height="5.15" fill="#ffff00"/><rect x="105.00" y="389.25" width="15.35" height="5.15" fill="#ffc800"/><rect x="120.30" y="389.25" width="5.15" height="5.15" fill="#ffff00"/><rect x="33.60" y="394.35" width="5.15" height="5.15" fill="#3cf0c8"/><rect x="38.70" y="394.35" width="5.15" height="5.15" fill="#92f280"/><rect x="43.80" y="394.35" width="5.15" height="5.15" fill="#c3ff3c"/><rect x="48.90" y="394.35" width="56.15" height="5.15" fill="#ffff00"/><rect x="105.00" y="394.35" width="10.25" height="5.15" fill="#ffc800"/><rect x="115.20" y="394.35" width="5.15" height="5.15" fill="#ffff00"/><rect x="120.30" y="394.35" width="10.25" height="5.15" fill="#ffc800"/><rect x="13.20" y="399.45" width="10.25" height="5.15" fill="#ffc800"/><rect x="28.50" y="399.45" width="35.75" height="5.15" fill="#ffff00"/><rect x="64.20" y="399.45" width="15.35" height="5.15" fill="#ffc800"/><rect x="79.50" y="399.45" width="30.65" height="5.15" fill="#ffff00"/><rect x="110.10" y="399.45" width="5.15" height="5.15" fill="#ffc800"/><rect x="115.20" y="399.45" width="15.35" height="5.15" fill="#ffff00"/><rect x="8.10" y="404.55" width="10.25" height="5.15" fill="#ffc800"/><rect x="18.30" y="404.55" width="45.95" height="5.15" fill="#ffff00"/><rect x="64.20" y="404.55" width="10.25" height="5.15" fill="#ffa000"/><rect x="74.40" y="404.55" width="56.15" height="5.15" fill="#ffff00"/><rect x="8.10" y="409.65" width="5.15" height="5.15" fill="#ff5a00"/><rect x="13.20" y="409.65" width="5.15" height="5.15" fill="#ffa000"/><rect x="18.30" y="409.65" width="5.15" height="5.15" fill="#ffc800"/><rect x="23.40" y="409.65" width="10.25" height="5.15" fill="#ffff00"/><rect x="33.60" y="409.65" width="5.15" height="5.15" fill="#c3ff3c"/><rect x="38.70" y="409.65" width="10.25" height="5.15" fill="#ffff00"/><rect x="48.90" y="409.65" width="10.25" height="5.15" fill="#ffc800"/><rect x="59.10" y="409.65" width="5.15" height="5.15" fill="#ffa000"/><rect x="64.20" y="409.65" width="10.25" height="5.15" fill="#ffc800"/><rect x="74.40" y="409.65" width="5.15" height="5.15" fill="#ffff00"/><rect x="79.50" y="409.65" width="15.35" height="5.15" fill="#ffc800"/><rect x="94.80" y="409.65" width="30.65" height="5.15" fill="#ffff00"/><rect x="125.40" y="409.65" width="10.25" height="5.15" fill="#c3ff3c"/><rect x="13.20" y="414.75" width="5.15" height="5.15" fill="#ffa000"/><rect x="18.30" y="414.75" width="5.15" height="5.15" fill="#ffc800"/><rect x="23.40" y="414.75" width="5.15" height="5.15" fill="#c3ff3c"/><rect x="28.50" y="414.75" width="5.15" height="5.15" fill="#ffff00"/><rect x="33.60" y="414.75" width="10.25" height="5.15" fill="#c3ff3c"/><rect x="43.80" y="414.75" width="15.35" height="5.15" fill="#ffff00"/><rect x="59.10" y="414.75" width="5.15" height="5.15" fill="#ff5a00"/><rect x="64.20" y="414.75" width="5.15" height="5.15" fill="#ffa000"/><rect x="69.30" y="414.75" width="5.15" height="5.15" fill="#ffc800"/><rect x="74.40" y="414.75" width="51.05" height="5.15" fill="#ffff00"/><rect x="125.40" y="414.75" width="5.15" height="5.15" fill="#c3ff3c"/><rect x="130.50" y="414.75" width="5.15" height="5.15" fill="#92f280"/><rect x="13.20" y="419.85" width="10.25" height="5.15" fill="#ff5a00"/><rect x="43.80" y="419.85" width="5.15" height="5.15" fill="#ffc800"/><rect x="59.10" y="419.85" width="10.25" height="5.15" fill="#ff5a00"/><rect x="69.30" y="419.85" width="5.15" height="5.15" fill="#ffa000"/><rect x="74.40" y="419.85" width="56.15" height="5.15" fill="#ffff00"/><rect x="79.50" y="424.95" width="10.25" height="5.15" fill="#00eef8"/><rect x="89.70" y="424.95" width="5.15" height="5.15" fill="#3cf0c8"/><rect x="94.80" y="424.95" width="25.55" height="5.15" fill="#ffff00"/><rect x="120.30" y="424.95" width="5.15" height="5.15" fill="#ffc800"/><rect x="84.60" y="430.05" width="20.45" height="5.15" fill="#ff5a00"/><rect x="105.00" y="430.05" width="5.15" height="5.15" fill="#ffa000"/><rect x="115.20" y="430.05" width="5.15" height="5.15" fill="#ff5a00"/></g>
<path d="M10.0,404.5 L11.3,404.5 L12.2,404.2 L12.9,403.6 L13.2,402.6 L13.2,401.4 L13.8,400.4 L15.1,399.8 L17.0,399.4 L19.6,399.4 L21.5,399.8 L22.8,400.4 L23.4,401.4 L23.4,402.6 L23.7,403.6 L24.4,404.2 L25.3,404.5 L26.6,404.5 L27.5,404.2 L28.2,403.6 L28.5,402.6 L28.5,401.4 L28.8,400.4 L29.5,399.8 L30.4,399.4 L31.7,399.4 L32.6,398.8 L33.3,397.5 L33.6,395.6 L33.6,393.1 L33.9,391.2 L34.6,389.9 L35.5,389.2 L36.8,389.2 L37.7,388.9 L38.4,388.3 L38.7,387.3 L38.7,386.1 L39.0,385.1 L39.7,384.5 L40.6,384.1 L41.9,384.1 L42.8,384.5 L43.5,385.1 L43.8,386.1 L43.8,387.3 L44.1,388.3 L44.8,388.9 L45.7,389.2 L47.0,389.2 L47.9,389.6 L48.6,390.2 L48.9,391.2 L48.9,392.4 L49.2,393.4 L49.9,394.0 L50.8,394.3 L52.1,394.3 L53.0,394.0 L53.7,393.4 L54.0,392.4 L54.0,391.2 L54.3,390.2 L55.0,389.6 L55.9,389.2 L57.2,389.2 L58.1,388.3 L58.8,386.4 L59.1,383.5 L59.1,379.7 L59.4,376.8 L60.1,374.9 L61.0,373.9 L62.3,373.9 L63.2,373.6 L63.9,373.0 L64.2,372.0 L64.2,370.8 L63.9,369.8 L63.2,369.2 L62.3,368.8 L61.0,368.8 L60.1,368.5 L59.4,367.9 L59.1,366.9 L59.1,365.7 L62.0,364.7 L67.7,364.1 L76.3,363.7 L87.8,363.7 L96.4,364.4 L102.1,365.7 L105.0,367.6 L105.0,370.1 L105.3,372.0 L106.0,373.3 L106.9,373.9 L108.2,373.9 L109.1,374.3 L109.8,374.9 L110.1,375.9 L110.1,377.1 L110.7,378.1 L112.0,378.7 L113.9,379.0 L116.5,379.0 L118.4,379.4 L119.7,380.0 L120.3,381.0 L120.3,382.2 L120.6,383.2 L121.3,383.8 L122.2,384.1 L123.5,384.1 L124.4,384.8 L125.1,386.1 L125.4,388.0 L125.4,390.5 L125.7,392.4 L126.4,393.7 L127.3,394.3 L128.6,394.3 L129.5,395.3 L130.2,397.2 L130.5,400.1 L130.5,403.9 L130.8,406.8 L131.5,408.7 L132.4,409.6 L133.7,409.6 L134.6,410.3 L135.3,411.6 L135.6,413.5 L135.6,416.0 L135.3,417.9 L134.6,419.2 L133.7,419.8 L132.4,419.8 L131.5,420.2 L130.8,420.8 L130.5,421.8 L130.5,423.0 L130.2,424.0 L129.5,424.6 L128.6,424.9 L127.3,424.9 L126.4,425.3 L125.7,425.9 L125.4,426.9 L125.4,428.1 L125.1,429.1 L124.4,429.7 L123.5,430.0 L122.2,430.0 L121.3,430.4 L120.6,431.0 L120.3,432.0 L120.3,433.2 L120.0,434.2 L119.3,434.8 L118.4,435.1 L117.1,435.1 L116.2,434.8 L115.5,434.2 L115.2,433.2 L115.2,432.0 L114.9,431.0 L114.2,430.4 L113.3,430.0 L112.0,430.0 L111.1,430.4 L110.4,431.0 L110.1,432.0 L110.1,433.2 L108.5,434.2 L105.3,434.8 L100.5,435.1 L94.2,435.1 L89.4,434.8 L86.2,434.2 L84.6,433.2 L84.6,432.0 L84.3,431.0 L83.6,430.4 L82.7,430.0 L81.4,430.0 L80.5,429.7 L79.8,429.1 L79.5,428.1 L79.5,426.9 L78.2,425.9 L75.7,425.3 L71.8,424.9 L66.7,424.9 L62.9,424.6 L60.4,424.0 L59.1,423.0 L59.1,421.8 L58.5,420.8 L57.2,420.2 L55.3,419.8 L52.7,419.8 L50.8,420.2 L49.5,420.8 L48.9,421.8 L48.9,423.0 L48.6,424.0 L47.9,424.6 L47.0,424.9 L45.7,424.9 L44.8,424.6 L44.1,424.0 L43.8,423.0 L43.8,421.8 L42.5,420.8 L40.0,420.2 L36.1,419.8 L31.0,419.8 L27.2,420.2 L24.7,420.8 L23.4,421.8 L23.4,423.0 L22.8,424.0 L21.5,424.6 L19.6,424.9 L17.0,424.9 L15.1,424.3 L13.8,423.0 L13.2,421.1 L13.2,418.6 L12.9,416.7 L12.2,415.4 L11.3,414.7 L10.0,414.7 L9.1,414.1 L8.4,412.8 L8.1,410.9 L8.1,408.4 L8.4,406.5 L9.1,405.2Z" fill="none" stroke="#9a9a9a" stroke-width="0.5" stroke-dasharray="1.6,1.2"/>
<path d="M80.0,364.9 L81.8,368.5 L84.5,372.1 L88.2,374.4 L91.8,377.6 L94.5,382.1 L97.3,386.7 L99.2,391.4 L102.5,395.8 L105.7,401.2 L106.8,402.2" fill="none" stroke="#505050" stroke-width="0.5" stroke-dasharray="2,1" opacity="0.75"/>
<path d="M106.8,402.2 L110.7,403.8 L115.0,407.1 L119.4,408.1 L123.7,407.6 L128.1,404.9 L131.4,401.6" fill="none" stroke="#505050" stroke-width="0.5" stroke-dasharray="2,1" opacity="0.75"/>
<path d="M106.8,402.2 L103.1,406.0 L100.8,410.3 L99.8,413.6" fill="none" stroke="#505050" stroke-width="0.5" stroke-dasharray="2,1" opacity="0.75"/>
<path d="M99.8,413.6 L94.3,413.6 L88.9,412.5 L83.4,413.6 L77.2,414.1 L70.7,410.8 L65.2,408.6 L59.8,407.5 L56.6,405.2" fill="none" stroke="#505050" stroke-width="0.5" stroke-dasharray="2,1" opacity="0.75"/>
<path d="M99.8,413.6 L103.1,416.9 L107.4,419.6 L109.5,420.7 L105.2,423.4 L102.0,426.7 L100.8,430.0 L100.6,433.2" fill="none" stroke="#505050" stroke-width="0.5" stroke-dasharray="2,1" opacity="0.75"/>
<path d="M54.0,389.5 L56.0,399.1 L58.4,407.5 L62.0,413.5 L68.0,419.5 L72.8,423.1" fill="none" stroke="#505050" stroke-width="0.5" stroke-dasharray="2,1" opacity="0.75"/>
<text x="115.0" y="391.0" font-size="7.6" text-anchor="middle" stroke="#000" stroke-width="0.35">1</text>
<text x="79.4" y="394.3" font-size="7.6" text-anchor="middle" stroke="#000" stroke-width="0.35">2</text>
<text x="37.9" y="411.3" font-size="7.6" text-anchor="middle" stroke="#000" stroke-width="0.35">3</text>
<text x="89.5" y="425.7" font-size="7.6" text-anchor="middle" stroke="#000" stroke-width="0.35">4</text>
<text x="117.9" y="422.1" font-size="7.6" text-anchor="middle" stroke="#000" stroke-width="0.35">5</text>
<rect x="150.35" y="342.05" width="135.1" height="98.1" fill="none" stroke="#777" stroke-width="1.0"/>
<text transform="translate(155.05,355.55) scale(1.13,1)" font-size="7.35" stroke="#000" stroke-width="0.12">(d-2) PERSIANN CDR</text>
<g shape-rendering="crispEdges"><rect x="206.10" y="363.75" width="5.15" height="5.15" fill="#0091ff"/><rect x="211.20" y="363.75" width="10.25" height="5.15" fill="#00beff"/><rect x="221.40" y="363.75" width="15.35" height="5.15" fill="#00eef8"/><rect x="236.70" y="363.75" width="5.15" height="5.15" fill="#00beff"/><rect x="241.80" y="363.75" width="10.25" height="5.15" fill="#00eef8"/><rect x="211.20" y="368.85" width="40.85" height="5.15" fill="#00eef8"/><rect x="206.10" y="373.95" width="15.35" height="5.15" fill="#00eef8"/><rect x="221.40" y="373.95" width="10.25" height="5.15" fill="#00beff"/><rect x="231.60" y="373.95" width="25.55" height="5.15" fill="#00eef8"/><rect x="206.10" y="379.05" width="5.15" height="5.15" fill="#3cf0c8"/><rect x="211.20" y="379.05" width="10.25" height="5.15" fill="#00eef8"/><rect x="221.40" y="379.05" width="10.25" height="5.15" fill="#00beff"/><rect x="231.60" y="379.05" width="35.75" height="5.15" fill="#00eef8"/><rect x="185.70" y="384.15" width="5.15" height="5.15" fill="#00eef8"/><rect x="206.10" y="384.15" width="5.15" height="5.15" fill="#3cf0c8"/><rect x="211.20" y="384.15" width="40.85" height="5.15" fill="#00eef8"/><rect x="252.00" y="384.15" width="5.15" height="5.15" fill="#3cf0c8"/><rect x="257.10" y="384.15" width="15.35" height="5.15" fill="#00eef8"/><rect x="180.60" y="389.25" width="15.35" height="5.15" fill="#00eef8"/><rect x="201.00" y="389.25" width="5.15" height="5.15" fill="#92f280"/><rect x="206.10" y="389.25" width="5.15" height="5.15" fill="#3cf0c8"/><rect x="211.20" y="389.25" width="40.85" height="5.15" fill="#00eef8"/><rect x="252.00" y="389.25" width="5.15" height="5.15" fill="#3cf0c8"/><rect x="257.10" y="389.25" width="15.35" height="5.15" fill="#00eef8"/><rect x="180.60" y="394.35" width="15.35" height="5.15" fill="#00eef8"/><rect x="195.90" y="394.35" width="5.15" height="5.15" fill="#3cf0c8"/><rect x="201.00" y="394.35" width="5.15" height="5.15" fill="#92f280"/><rect x="206.10" y="394.35" width="71.45" height="5.15" fill="#00eef8"/><rect x="160.20" y="399.45" width="10.25" height="5.15" fill="#3cf0c8"/><rect x="175.50" y="399.45" width="5.15" height="5.15" fill="#3cf0c8"/><rect x="180.60" y="399.45" width="15.35" height="5.15" fill="#00eef8"/><rect x="195.90" y="399.45" width="5.15" height="5.15" fill="#3cf0c8"/><rect x="201.00" y="399.45" width="5.15" height="5.15" fill="#92f280"/><rect x="206.10" y="399.45" width="5.15" height="5.15" fill="#3cf0c8"/><rect x="211.20" y="399.45" width="61.25" height="5.15" fill="#00eef8"/><rect x="272.40" y="399.45" width="5.15" height="5.15" fill="#00beff"/><rect x="155.10" y="404.55" width="10.25" height="5.15" fill="#3cf0c8"/><rect x="165.30" y="404.55" width="30.65" height="5.15" fill="#00eef8"/><rect x="195.90" y="404.55" width="5.15" height="5.15" fill="#3cf0c8"/><rect x="201.00" y="404.55" width="5.15" height="5.15" fill="#92f280"/><rect x="206.10" y="404.55" width="5.15" height="5.15" fill="#3cf0c8"/><rect x="211.20" y="404.55" width="61.25" height="5.15" fill="#00eef8"/><rect x="272.40" y="404.55" width="5.15" height="5.15" fill="#00beff"/><rect x="155.10" y="409.65" width="5.15" height="5.15" fill="#92f280"/><rect x="160.20" y="409.65" width="10.25" height="5.15" fill="#3cf0c8"/><rect x="170.40" y="409.65" width="25.55" height="5.15" fill="#00eef8"/><rect x="195.90" y="409.65" width="5.15" height="5.15" fill="#3cf0c8"/><rect x="201.00" y="409.65" width="5.15" height="5.15" fill="#92f280"/><rect x="206.10" y="409.65" width="5.15" height="5.15" fill="#3cf0c8"/><rect x="211.20" y="409.65" width="45.95" height="5.15" fill="#00eef8"/><rect x="257.10" y="409.65" width="25.55" height="5.15" fill="#0091ff"/><rect x="160.20" y="414.75" width="5.15" height="5.15" fill="#92f280"/><rect x="165.30" y="414.75" width="5.15" height="5.15" fill="#3cf0c8"/><rect x="170.40" y="414.75" width="5.15" height="5.15" fill="#00eef8"/><rect x="175.50" y="414.75" width="15.35" height="5.15" fill="#3cf0c8"/><rect x="190.80" y="414.75" width="15.35" height="5.15" fill="#00eef8"/><rect x="206.10" y="414.75" width="5.15" height="5.15" fill="#92f280"/><rect x="211.20" y="414.75" width="5.15" height="5.15" fill="#3cf0c8"/><rect x="216.30" y="414.75" width="25.55" height="5.15" fill="#00eef8"/><rect x="241.80" y="414.75" width="15.35" height="5.15" fill="#00beff"/><rect x="257.10" y="414.75" width="10.25" height="5.15" fill="#1e46ff"/><rect x="267.30" y="414.75" width="15.35" height="5.15" fill="#0091ff"/><rect x="160.20" y="419.85" width="10.25" height="5.15" fill="#92f280"/><rect x="190.80" y="419.85" width="5.15" height="5.15" fill="#3cf0c8"/><rect x="206.10" y="419.85" width="10.25" height="5.15" fill="#92f280"/><rect x="216.30" y="419.85" width="5.15" height="5.15" fill="#3cf0c8"/><rect x="221.40" y="419.85" width="15.35" height="5.15" fill="#00eef8"/><rect x="236.70" y="419.85" width="10.25" height="5.15" fill="#00beff"/><rect x="246.90" y="419.85" width="10.25" height="5.15" fill="#0091ff"/><rect x="257.10" y="419.85" width="15.35" height="5.15" fill="#00beff"/><rect x="272.40" y="419.85" width="5.15" height="5.15" fill="#00eef8"/><rect x="226.50" y="424.95" width="5.15" height="5.15" fill="#3cf0c8"/><rect x="231.60" y="424.95" width="10.25" height="5.15" fill="#00eef8"/><rect x="241.80" y="424.95" width="10.25" height="5.15" fill="#00beff"/><rect x="252.00" y="424.95" width="20.45" height="5.15" fill="#00eef8"/><rect x="231.60" y="430.05" width="10.25" height="5.15" fill="#92f280"/><rect x="241.80" y="430.05" width="15.35" height="5.15" fill="#3cf0c8"/><rect x="262.20" y="430.05" width="5.15" height="5.15" fill="#3cf0c8"/></g>
<path d="M157.0,404.5 L158.3,404.5 L159.2,404.2 L159.9,403.6 L160.2,402.6 L160.2,401.4 L160.8,400.4 L162.1,399.8 L164.0,399.4 L166.6,399.4 L168.5,399.8 L169.8,400.4 L170.4,401.4 L170.4,402.6 L170.7,403.6 L171.4,404.2 L172.3,404.5 L173.6,404.5 L174.5,404.2 L175.2,403.6 L175.5,402.6 L175.5,401.4 L175.8,400.4 L176.5,399.8 L177.4,399.4 L178.7,399.4 L179.6,398.8 L180.3,397.5 L180.6,395.6 L180.6,393.1 L180.9,391.2 L181.6,389.9 L182.5,389.2 L183.8,389.2 L184.7,388.9 L185.4,388.3 L185.7,387.3 L185.7,386.1 L186.0,385.1 L186.7,384.5 L187.6,384.1 L188.9,384.1 L189.8,384.5 L190.5,385.1 L190.8,386.1 L190.8,387.3 L191.1,388.3 L191.8,388.9 L192.7,389.2 L194.0,389.2 L194.9,389.6 L195.6,390.2 L195.9,391.2 L195.9,392.4 L196.2,393.4 L196.9,394.0 L197.8,394.3 L199.1,394.3 L200.0,394.0 L200.7,393.4 L201.0,392.4 L201.0,391.2 L201.3,390.2 L202.0,389.6 L202.9,389.2 L204.2,389.2 L205.1,388.3 L205.8,386.4 L206.1,383.5 L206.1,379.7 L206.4,376.8 L207.1,374.9 L208.0,373.9 L209.3,373.9 L210.2,373.6 L210.9,373.0 L211.2,372.0 L211.2,370.8 L210.9,369.8 L210.2,369.2 L209.3,368.8 L208.0,368.8 L207.1,368.5 L206.4,367.9 L206.1,366.9 L206.1,365.7 L209.0,364.7 L214.7,364.1 L223.3,363.7 L234.8,363.7 L243.4,364.4 L249.1,365.7 L252.0,367.6 L252.0,370.1 L252.3,372.0 L253.0,373.3 L253.9,373.9 L255.2,373.9 L256.1,374.3 L256.8,374.9 L257.1,375.9 L257.1,377.1 L257.7,378.1 L259.0,378.7 L260.9,379.0 L263.5,379.0 L265.4,379.4 L266.7,380.0 L267.3,381.0 L267.3,382.2 L267.6,383.2 L268.3,383.8 L269.2,384.1 L270.5,384.1 L271.4,384.8 L272.1,386.1 L272.4,388.0 L272.4,390.5 L272.7,392.4 L273.4,393.7 L274.3,394.3 L275.6,394.3 L276.5,395.3 L277.2,397.2 L277.5,400.1 L277.5,403.9 L277.8,406.8 L278.5,408.7 L279.4,409.6 L280.7,409.6 L281.6,410.3 L282.3,411.6 L282.6,413.5 L282.6,416.0 L282.3,417.9 L281.6,419.2 L280.7,419.8 L279.4,419.8 L278.5,420.2 L277.8,420.8 L277.5,421.8 L277.5,423.0 L277.2,424.0 L276.5,424.6 L275.6,424.9 L274.3,424.9 L273.4,425.3 L272.7,425.9 L272.4,426.9 L272.4,428.1 L272.1,429.1 L271.4,429.7 L270.5,430.0 L269.2,430.0 L268.3,430.4 L267.6,431.0 L267.3,432.0 L267.3,433.2 L267.0,434.2 L266.3,434.8 L265.4,435.1 L264.1,435.1 L263.2,434.8 L262.5,434.2 L262.2,433.2 L262.2,432.0 L261.9,431.0 L261.2,430.4 L260.3,430.0 L259.0,430.0 L258.1,430.4 L257.4,431.0 L257.1,432.0 L257.1,433.2 L255.5,434.2 L252.3,434.8 L247.5,435.1 L241.2,435.1 L236.4,434.8 L233.2,434.2 L231.6,433.2 L231.6,432.0 L231.3,431.0 L230.6,430.4 L229.7,430.0 L228.4,430.0 L227.5,429.7 L226.8,429.1 L226.5,428.1 L226.5,426.9 L225.2,425.9 L222.7,425.3 L218.8,424.9 L213.8,424.9 L209.9,424.6 L207.4,424.0 L206.1,423.0 L206.1,421.8 L205.5,420.8 L204.2,420.2 L202.3,419.8 L199.7,419.8 L197.8,420.2 L196.5,420.8 L195.9,421.8 L195.9,423.0 L195.6,424.0 L194.9,424.6 L194.0,424.9 L192.7,424.9 L191.8,424.6 L191.1,424.0 L190.8,423.0 L190.8,421.8 L189.5,420.8 L187.0,420.2 L183.1,419.8 L178.0,419.8 L174.2,420.2 L171.7,420.8 L170.4,421.8 L170.4,423.0 L169.8,424.0 L168.5,424.6 L166.6,424.9 L164.0,424.9 L162.1,424.3 L160.8,423.0 L160.2,421.1 L160.2,418.6 L159.9,416.7 L159.2,415.4 L158.3,414.7 L157.0,414.7 L156.1,414.1 L155.4,412.8 L155.1,410.9 L155.1,408.4 L155.4,406.5 L156.1,405.2Z" fill="none" stroke="#9a9a9a" stroke-width="0.5" stroke-dasharray="1.6,1.2"/>
<path d="M227.0,364.9 L228.8,368.5 L231.5,372.1 L235.2,374.4 L238.8,377.6 L241.5,382.1 L244.3,386.7 L246.2,391.4 L249.5,395.8 L252.7,401.2 L253.8,402.2" fill="none" stroke="#505050" stroke-width="0.5" stroke-dasharray="2,1" opacity="0.75"/>
<path d="M253.8,402.2 L257.7,403.8 L262.0,407.1 L266.4,408.1 L270.7,407.6 L275.1,404.9 L278.4,401.6" fill="none" stroke="#505050" stroke-width="0.5" stroke-dasharray="2,1" opacity="0.75"/>
<path d="M253.8,402.2 L250.1,406.0 L247.8,410.3 L246.8,413.6" fill="none" stroke="#505050" stroke-width="0.5" stroke-dasharray="2,1" opacity="0.75"/>
<path d="M246.8,413.6 L241.3,413.6 L235.9,412.5 L230.4,413.6 L224.2,414.1 L217.7,410.8 L212.2,408.6 L206.8,407.5 L203.6,405.2" fill="none" stroke="#505050" stroke-width="0.5" stroke-dasharray="2,1" opacity="0.75"/>
<path d="M246.8,413.6 L250.1,416.9 L254.4,419.6 L256.5,420.7 L252.2,423.4 L249.0,426.7 L247.8,430.0 L247.6,433.2" fill="none" stroke="#505050" stroke-width="0.5" stroke-dasharray="2,1" opacity="0.75"/>
<path d="M201.0,389.5 L203.0,399.1 L205.4,407.5 L209.0,413.5 L215.0,419.5 L219.8,423.1" fill="none" stroke="#505050" stroke-width="0.5" stroke-dasharray="2,1" opacity="0.75"/>
<text x="262.0" y="391.0" font-size="7.6" text-anchor="middle" stroke="#000" stroke-width="0.35">1</text>
<text x="226.4" y="394.3" font-size="7.6" text-anchor="middle" stroke="#000" stroke-width="0.35">2</text>
<text x="184.9" y="411.3" font-size="7.6" text-anchor="middle" stroke="#000" stroke-width="0.35">3</text>
<text x="236.5" y="425.7" font-size="7.6" text-anchor="middle" stroke="#000" stroke-width="0.35">4</text>
<text x="264.9" y="422.1" font-size="7.6" text-anchor="middle" stroke="#000" stroke-width="0.35">5</text>
<rect x="297.35" y="342.05" width="135.1" height="98.1" fill="none" stroke="#777" stroke-width="1.0"/>
<text transform="translate(302.05,355.55) scale(1.13,1)" font-size="7.35" stroke="#000" stroke-width="0.12">(d-3) CMORPH CRT</text>
<g shape-rendering="crispEdges"><rect x="353.10" y="363.75" width="5.15" height="5.15" fill="#0091ff"/><rect x="358.20" y="363.75" width="5.15" height="5.15" fill="#00beff"/><rect x="363.30" y="363.75" width="15.35" height="5.15" fill="#00eef8"/><rect x="378.60" y="363.75" width="10.25" height="5.15" fill="#3cf0c8"/><rect x="388.80" y="363.75" width="10.25" height="5.15" fill="#92f280"/><rect x="358.20" y="368.85" width="5.15" height="5.15" fill="#00beff"/><rect x="363.30" y="368.85" width="5.15" height="5.15" fill="#00eef8"/><rect x="368.40" y="368.85" width="5.15" height="5.15" fill="#00beff"/><rect x="373.50" y="368.85" width="5.15" height="5.15" fill="#00eef8"/><rect x="378.60" y="368.85" width="15.35" height="5.15" fill="#3cf0c8"/><rect x="393.90" y="368.85" width="5.15" height="5.15" fill="#92f280"/><rect x="353.10" y="373.95" width="5.15" height="5.15" fill="#00eef8"/><rect x="358.20" y="373.95" width="5.15" height="5.15" fill="#00beff"/><rect x="363.30" y="373.95" width="10.25" height="5.15" fill="#00eef8"/><rect x="373.50" y="373.95" width="10.25" height="5.15" fill="#3cf0c8"/><rect x="383.70" y="373.95" width="10.25" height="5.15" fill="#92f280"/><rect x="393.90" y="373.95" width="10.25" height="5.15" fill="#c3ff3c"/><rect x="353.10" y="379.05" width="5.15" height="5.15" fill="#00eef8"/><rect x="358.20" y="379.05" width="20.45" height="5.15" fill="#3cf0c8"/><rect x="378.60" y="379.05" width="10.25" height="5.15" fill="#92f280"/><rect x="388.80" y="379.05" width="5.15" height="5.15" fill="#c3ff3c"/><rect x="393.90" y="379.05" width="20.45" height="5.15" fill="#ffff00"/><rect x="332.70" y="384.15" width="5.15" height="5.15" fill="#00eef8"/><rect x="353.10" y="384.15" width="10.25" height="5.15" fill="#3cf0c8"/><rect x="363.30" y="384.15" width="25.55" height="5.15" fill="#92f280"/><rect x="388.80" y="384.15" width="30.65" height="5.15" fill="#ffff00"/><rect x="327.60" y="389.25" width="10.25" height="5.15" fill="#00eef8"/><rect x="337.80" y="389.25" width="5.15" height="5.15" fill="#92f280"/><rect x="348.00" y="389.25" width="10.25" height="5.15" fill="#3cf0c8"/><rect x="358.20" y="389.25" width="20.45" height="5.15" fill="#92f280"/><rect x="378.60" y="389.25" width="5.15" height="5.15" fill="#3cf0c8"/><rect x="383.70" y="389.25" width="5.15" height="5.15" fill="#92f280"/><rect x="388.80" y="389.25" width="20.45" height="5.15" fill="#ffff00"/><rect x="409.20" y="389.25" width="10.25" height="5.15" fill="#c3ff3c"/><rect x="327.60" y="394.35" width="5.15" height="5.15" fill="#00eef8"/><rect x="332.70" y="394.35" width="5.15" height="5.15" fill="#3cf0c8"/><rect x="337.80" y="394.35" width="5.15" height="5.15" fill="#92f280"/><rect x="342.90" y="394.35" width="10.25" height="5.15" fill="#c3ff3c"/><rect x="353.10" y="394.35" width="5.15" height="5.15" fill="#3cf0c8"/><rect x="358.20" y="394.35" width="30.65" height="5.15" fill="#92f280"/><rect x="388.80" y="394.35" width="15.35" height="5.15" fill="#ffff00"/><rect x="404.10" y="394.35" width="10.25" height="5.15" fill="#c3ff3c"/><rect x="414.30" y="394.35" width="5.15" height="5.15" fill="#92f280"/><rect x="419.40" y="394.35" width="5.15" height="5.15" fill="#3cf0c8"/><rect x="307.20" y="399.45" width="10.25" height="5.15" fill="#3cf0c8"/><rect x="322.50" y="399.45" width="15.35" height="5.15" fill="#3cf0c8"/><rect x="337.80" y="399.45" width="5.15" height="5.15" fill="#92f280"/><rect x="342.90" y="399.45" width="10.25" height="5.15" fill="#c3ff3c"/><rect x="353.10" y="399.45" width="5.15" height="5.15" fill="#ffff00"/><rect x="358.20" y="399.45" width="5.15" height="5.15" fill="#92f280"/><rect x="363.30" y="399.45" width="10.25" height="5.15" fill="#ffff00"/><rect x="373.50" y="399.45" width="10.25" height="5.15" fill="#92f280"/><rect x="383.70" y="399.45" width="5.15" height="5.15" fill="#ffff00"/><rect x="388.80" y="399.45" width="15.35" height="5.15" fill="#c3ff3c"/><rect x="404.10" y="399.45" width="10.25" height="5.15" fill="#92f280"/><rect x="414.30" y="399.45" width="5.15" height="5.15" fill="#3cf0c8"/><rect x="419.40" y="399.45" width="5.15" height="5.15" fill="#00eef8"/><rect x="302.10" y="404.55" width="5.15" height="5.15" fill="#c3ff3c"/><rect x="307.20" y="404.55" width="20.45" height="5.15" fill="#3cf0c8"/><rect x="327.60" y="404.55" width="5.15" height="5.15" fill="#c3ff3c"/><rect x="332.70" y="404.55" width="20.45" height="5.15" fill="#ffff00"/><rect x="353.10" y="404.55" width="5.15" height="5.15" fill="#c3ff3c"/><rect x="358.20" y="404.55" width="30.65" height="5.15" fill="#ffff00"/><rect x="388.80" y="404.55" width="15.35" height="5.15" fill="#c3ff3c"/><rect x="404.10" y="404.55" width="5.15" height="5.15" fill="#92f280"/><rect x="409.20" y="404.55" width="5.15" height="5.15" fill="#3cf0c8"/><rect x="414.30" y="404.55" width="5.15" height="5.15" fill="#00beff"/><rect x="419.40" y="404.55" width="5.15" height="5.15" fill="#0091ff"/><rect x="302.10" y="409.65" width="5.15" height="5.15" fill="#c3ff3c"/><rect x="307.20" y="409.65" width="5.15" height="5.15" fill="#92f280"/><rect x="312.30" y="409.65" width="20.45" height="5.15" fill="#3cf0c8"/><rect x="332.70" y="409.65" width="5.15" height="5.15" fill="#92f280"/><rect x="337.80" y="409.65" width="5.15" height="5.15" fill="#c3ff3c"/><rect x="342.90" y="409.65" width="15.35" height="5.15" fill="#ffff00"/><rect x="358.20" y="409.65" width="5.15" height="5.15" fill="#3cf0c8"/><rect x="363.30" y="409.65" width="5.15" height="5.15" fill="#92f280"/><rect x="368.40" y="409.65" width="25.55" height="5.15" fill="#ffff00"/><rect x="393.90" y="409.65" width="15.35" height="5.15" fill="#92f280"/><rect x="409.20" y="409.65" width="5.15" height="5.15" fill="#3cf0c8"/><rect x="414.30" y="409.65" width="10.25" height="5.15" fill="#00eef8"/><rect x="424.50" y="409.65" width="5.15" height="5.15" fill="#0091ff"/><rect x="307.20" y="414.75" width="10.25" height="5.15" fill="#92f280"/><rect x="317.40" y="414.75" width="15.35" height="5.15" fill="#3cf0c8"/><rect x="332.70" y="414.75" width="5.15" height="5.15" fill="#92f280"/><rect x="337.80" y="414.75" width="5.15" height="5.15" fill="#c3ff3c"/><rect x="342.90" y="414.75" width="51.05" height="5.15" fill="#ffff00"/><rect x="393.90" y="414.75" width="35.75" height="5.15" fill="#92f280"/><rect x="307.20" y="419.85" width="10.25" height="5.15" fill="#92f280"/><rect x="337.80" y="419.85" width="5.15" height="5.15" fill="#ffff00"/><rect x="353.10" y="419.85" width="5.15" height="5.15" fill="#ffa000"/><rect x="358.20" y="419.85" width="10.25" height="5.15" fill="#ffff00"/><rect x="368.40" y="419.85" width="5.15" height="5.15" fill="#92f280"/><rect x="373.50" y="419.85" width="5.15" height="5.15" fill="#3cf0c8"/><rect x="378.60" y="419.85" width="15.35" height="5.15" fill="#92f280"/><rect x="393.90" y="419.85" width="5.15" height="5.15" fill="#ffff00"/><rect x="399.00" y="419.85" width="15.35" height="5.15" fill="#92f280"/><rect x="414.30" y="419.85" width="10.25" height="5.15" fill="#ffff00"/><rect x="373.50" y="424.95" width="5.15" height="5.15" fill="#00eef8"/><rect x="378.60" y="424.95" width="10.25" height="5.15" fill="#00beff"/><rect x="388.80" y="424.95" width="10.25" height="5.15" fill="#00eef8"/><rect x="399.00" y="424.95" width="5.15" height="5.15" fill="#3cf0c8"/><rect x="404.10" y="424.95" width="10.25" height="5.15" fill="#92f280"/><rect x="414.30" y="424.95" width="5.15" height="5.15" fill="#ffff00"/><rect x="378.60" y="430.05" width="25.55" height="5.15" fill="#ffff00"/><rect x="409.20" y="430.05" width="5.15" height="5.15" fill="#ffc800"/></g>
<path d="M304.0,404.5 L305.3,404.5 L306.2,404.2 L306.9,403.6 L307.2,402.6 L307.2,401.4 L307.8,400.4 L309.1,399.8 L311.0,399.4 L313.6,399.4 L315.5,399.8 L316.8,400.4 L317.4,401.4 L317.4,402.6 L317.7,403.6 L318.4,404.2 L319.3,404.5 L320.6,404.5 L321.5,404.2 L322.2,403.6 L322.5,402.6 L322.5,401.4 L322.8,400.4 L323.5,399.8 L324.4,399.4 L325.7,399.4 L326.6,398.8 L327.3,397.5 L327.6,395.6 L327.6,393.1 L327.9,391.2 L328.6,389.9 L329.5,389.2 L330.8,389.2 L331.7,388.9 L332.4,388.3 L332.7,387.3 L332.7,386.1 L333.0,385.1 L333.7,384.5 L334.6,384.1 L335.9,384.1 L336.8,384.5 L337.5,385.1 L337.8,386.1 L337.8,387.3 L338.1,388.3 L338.8,388.9 L339.7,389.2 L341.0,389.2 L341.9,389.6 L342.6,390.2 L342.9,391.2 L342.9,392.4 L343.2,393.4 L343.9,394.0 L344.8,394.3 L346.1,394.3 L347.0,394.0 L347.7,393.4 L348.0,392.4 L348.0,391.2 L348.3,390.2 L349.0,389.6 L349.9,389.2 L351.2,389.2 L352.1,388.3 L352.8,386.4 L353.1,383.5 L353.1,379.7 L353.4,376.8 L354.1,374.9 L355.0,373.9 L356.3,373.9 L357.2,373.6 L357.9,373.0 L358.2,372.0 L358.2,370.8 L357.9,369.8 L357.2,369.2 L356.3,368.8 L355.0,368.8 L354.1,368.5 L353.4,367.9 L353.1,366.9 L353.1,365.7 L356.0,364.7 L361.7,364.1 L370.3,363.7 L381.8,363.7 L390.4,364.4 L396.1,365.7 L399.0,367.6 L399.0,370.1 L399.3,372.0 L400.0,373.3 L400.9,373.9 L402.2,373.9 L403.1,374.3 L403.8,374.9 L404.1,375.9 L404.1,377.1 L404.7,378.1 L406.0,378.7 L407.9,379.0 L410.5,379.0 L412.4,379.4 L413.7,380.0 L414.3,381.0 L414.3,382.2 L414.6,383.2 L415.3,383.8 L416.2,384.1 L417.5,384.1 L418.4,384.8 L419.1,386.1 L419.4,388.0 L419.4,390.5 L419.7,392.4 L420.4,393.7 L421.3,394.3 L422.6,394.3 L423.5,395.3 L424.2,397.2 L424.5,400.1 L424.5,403.9 L424.8,406.8 L425.5,408.7 L426.4,409.6 L427.7,409.6 L428.6,410.3 L429.3,411.6 L429.6,413.5 L429.6,416.0 L429.3,417.9 L428.6,419.2 L427.7,419.8 L426.4,419.8 L425.5,420.2 L424.8,420.8 L424.5,421.8 L424.5,423.0 L424.2,424.0 L423.5,424.6 L422.6,424.9 L421.3,424.9 L420.4,425.3 L419.7,425.9 L419.4,426.9 L419.4,428.1 L419.1,429.1 L418.4,429.7 L417.5,430.0 L416.2,430.0 L415.3,430.4 L414.6,431.0 L414.3,432.0 L414.3,433.2 L414.0,434.2 L413.3,434.8 L412.4,435.1 L411.1,435.1 L410.2,434.8 L409.5,434.2 L409.2,433.2 L409.2,432.0 L408.9,431.0 L408.2,430.4 L407.3,430.0 L406.0,430.0 L405.1,430.4 L404.4,431.0 L404.1,432.0 L404.1,433.2 L402.5,434.2 L399.3,434.8 L394.5,435.1 L388.2,435.1 L383.4,434.8 L380.2,434.2 L378.6,433.2 L378.6,432.0 L378.3,431.0 L377.6,430.4 L376.7,430.0 L375.4,430.0 L374.5,429.7 L373.8,429.1 L373.5,428.1 L373.5,426.9 L372.2,425.9 L369.7,425.3 L365.9,424.9 L360.8,424.9 L356.9,424.6 L354.4,424.0 L353.1,423.0 L353.1,421.8 L352.5,420.8 L351.2,420.2 L349.3,419.8 L346.7,419.8 L344.8,420.2 L343.5,420.8 L342.9,421.8 L342.9,423.0 L342.6,424.0 L341.9,424.6 L341.0,424.9 L339.7,424.9 L338.8,424.6 L338.1,424.0 L337.8,423.0 L337.8,421.8 L336.5,420.8 L334.0,420.2 L330.2,419.8 L325.1,419.8 L321.2,420.2 L318.7,420.8 L317.4,421.8 L317.4,423.0 L316.8,424.0 L315.5,424.6 L313.6,424.9 L311.0,424.9 L309.1,424.3 L307.8,423.0 L307.2,421.1 L307.2,418.6 L306.9,416.7 L306.2,415.4 L305.3,414.7 L304.0,414.7 L303.1,414.1 L302.4,412.8 L302.1,410.9 L302.1,408.4 L302.4,406.5 L303.1,405.2Z" fill="none" stroke="#9a9a9a" stroke-width="0.5" stroke-dasharray="1.6,1.2"/>
<path d="M374.0,364.9 L375.8,368.5 L378.5,372.1 L382.2,374.4 L385.8,377.6 L388.5,382.1 L391.3,386.7 L393.2,391.4 L396.5,395.8 L399.7,401.2 L400.8,402.2" fill="none" stroke="#505050" stroke-width="0.5" stroke-dasharray="2,1" opacity="0.75"/>
<path d="M400.8,402.2 L404.7,403.8 L409.0,407.1 L413.4,408.1 L417.7,407.6 L422.1,404.9 L425.4,401.6" fill="none" stroke="#505050" stroke-width="0.5" stroke-dasharray="2,1" opacity="0.75"/>
<path d="M400.8,402.2 L397.1,406.0 L394.8,410.3 L393.8,413.6" fill="none" stroke="#505050" stroke-width="0.5" stroke-dasharray="2,1" opacity="0.75"/>
<path d="M393.8,413.6 L388.3,413.6 L382.9,412.5 L377.4,413.6 L371.2,414.1 L364.7,410.8 L359.2,408.6 L353.8,407.5 L350.6,405.2" fill="none" stroke="#505050" stroke-width="0.5" stroke-dasharray="2,1" opacity="0.75"/>
<path d="M393.8,413.6 L397.1,416.9 L401.4,419.6 L403.5,420.7 L399.2,423.4 L396.0,426.7 L394.8,430.0 L394.6,433.2" fill="none" stroke="#505050" stroke-width="0.5" stroke-dasharray="2,1" opacity="0.75"/>
<path d="M348.0,389.5 L350.0,399.1 L352.4,407.5 L356.0,413.5 L362.0,419.5 L366.8,423.1" fill="none" stroke="#505050" stroke-width="0.5" stroke-dasharray="2,1" opacity="0.75"/>
<text x="409.0" y="391.0" font-size="7.6" text-anchor="middle" stroke="#000" stroke-width="0.35">1</text>
<text x="373.4" y="394.3" font-size="7.6" text-anchor="middle" stroke="#000" stroke-width="0.35">2</text>
<text x="331.9" y="411.3" font-size="7.6" text-anchor="middle" stroke="#000" stroke-width="0.35">3</text>
<text x="383.5" y="425.7" font-size="7.6" text-anchor="middle" stroke="#000" stroke-width="0.35">4</text>
<text x="411.9" y="422.1" font-size="7.6" text-anchor="middle" stroke="#000" stroke-width="0.35">5</text>
<text x="488.6" y="27.60" font-size="9.4">BIAS (%)</text>
<rect x="485" y="43.70" width="24.8" height="40" fill="url(#ramp)"/>
<text x="520" y="46.90" font-size="5.9">High : 74</text>
<text x="520.4" y="85.60" font-size="5.9">Low : -46</text>
<text x="488.6" y="137.25" font-size="9.4">MAE (mm/d)</text>
<rect x="485" y="153.35" width="24.8" height="40" fill="url(#ramp)"/>
<text x="520" y="156.55" font-size="5.9">High : 4.30</text>
<text x="520.4" y="195.25" font-size="5.9">Low : 1.37</text>
<text x="485.7" y="246.90" font-size="9.4">RMSE (mm/d)</text>
<rect x="485" y="263.00" width="24.8" height="40" fill="url(#ramp)"/>
<text x="520" y="266.20" font-size="5.9">High : 9.50</text>
<text x="520.4" y="304.90" font-size="5.9">Low : 3.80</text>
<text x="501.0" y="356.55" font-size="9.4">FAR</text>
<rect x="485" y="372.65" width="24.8" height="40" fill="url(#ramp)"/>
<text x="520" y="375.85" font-size="5.9">High : 0.75</text>
<text x="520.4" y="414.55" font-size="5.9">Low : 0.38</text>
</svg></body></html>
